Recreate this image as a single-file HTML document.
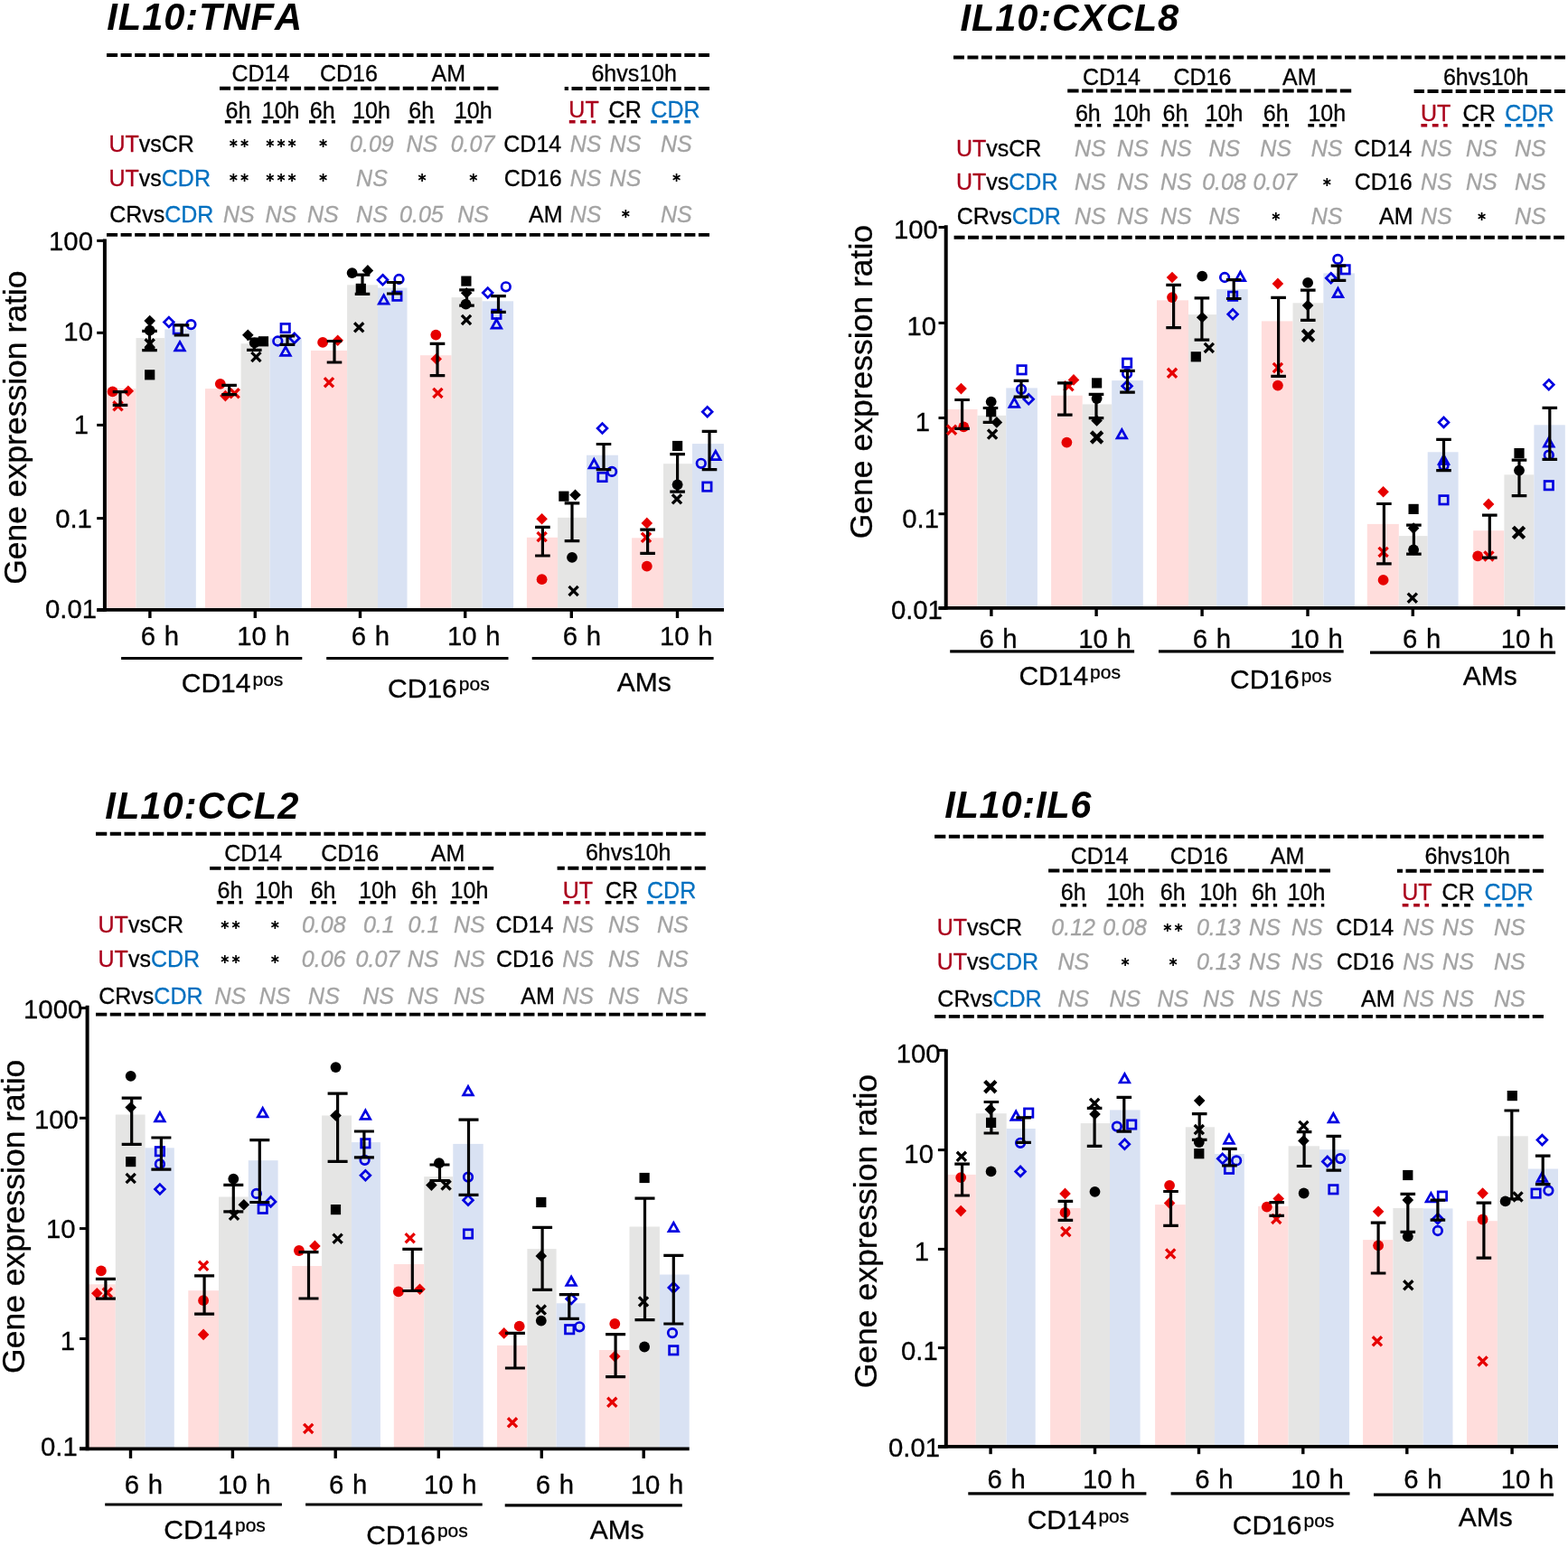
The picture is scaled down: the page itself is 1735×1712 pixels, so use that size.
<!DOCTYPE html>
<html><head><meta charset="utf-8"><title>IL10 ratios</title>
<style>
html,body{margin:0;padding:0;background:#fff;}
svg{display:block;font-family:"Liberation Sans", Arial, sans-serif;font-kerning:none;}
</style></head>
<body>
<svg width="1735" height="1712" viewBox="0 0 1735 1712">
<rect width="1735" height="1712" fill="#fff"/>
<g>
<text x="118.27" y="32.5" font-size="41.7" font-style="italic" font-weight="bold" fill="#000" letter-spacing="0.91">IL10:TNFA</text>
<line x1="118" y1="61" x2="785" y2="61" stroke="#000" stroke-width="3.9" stroke-dasharray="12.093 3.500"/>
<line x1="243" y1="97.8" x2="551.4" y2="97.8" stroke="#000" stroke-width="3.9" stroke-dasharray="12.095 3.500"/>
<line x1="785" y1="98" x2="624.7" y2="98" stroke="#000" stroke-width="3.9" stroke-dasharray="12.1 3.5"/>
<line x1="118" y1="259.9" x2="785" y2="259.9" stroke="#000" stroke-width="3.9" stroke-dasharray="12.093 3.500"/>
<text x="256.47" y="89.6" font-size="25" fill="#000" stroke="#000" stroke-width="0.3">CD14</text>
<text x="353.96" y="89.6" font-size="25" fill="#000" stroke="#000" stroke-width="0.3">CD16</text>
<text x="477.55" y="89.6" font-size="25" fill="#000" stroke="#000" stroke-width="0.3">AM</text>
<text x="654.42" y="89.7" font-size="25" fill="#000" stroke="#000" stroke-width="0.3">6hvs10h</text>
<text x="249.57" y="130.8" font-size="25" fill="#000" stroke="#000" stroke-width="0.3">6h</text>
<line x1="248.84" y1="134.8" x2="277.76" y2="134.8" stroke="#000" stroke-width="3.4" stroke-dasharray="6.8 5.6"/>
<text x="289.8" y="130.8" font-size="25" fill="#000" stroke="#000" stroke-width="0.3">10h</text>
<line x1="289.71" y1="134.8" x2="324.39" y2="134.8" stroke="#000" stroke-width="3.4" stroke-dasharray="6.8 5.6"/>
<text x="342.77" y="130.8" font-size="25" fill="#000" stroke="#000" stroke-width="0.3">6h</text>
<line x1="342.04" y1="134.8" x2="370.96" y2="134.8" stroke="#000" stroke-width="3.4" stroke-dasharray="6.8 5.6"/>
<text x="390.2" y="130.8" font-size="25" fill="#000" stroke="#000" stroke-width="0.3">10h</text>
<line x1="390.11" y1="134.8" x2="424.79" y2="134.8" stroke="#000" stroke-width="3.4" stroke-dasharray="6.8 5.6"/>
<text x="452.27" y="130.8" font-size="25" fill="#000" stroke="#000" stroke-width="0.3">6h</text>
<line x1="451.54" y1="134.8" x2="480.46" y2="134.8" stroke="#000" stroke-width="3.4" stroke-dasharray="6.8 5.6"/>
<text x="502.9" y="130.8" font-size="25" fill="#000" stroke="#000" stroke-width="0.3">10h</text>
<line x1="502.81" y1="134.8" x2="537.49" y2="134.8" stroke="#000" stroke-width="3.4" stroke-dasharray="6.8 5.6"/>
<text x="629.36" y="130.2" font-size="25" fill="#AA001C" stroke="#AA001C" stroke-width="0.3">UT</text>
<line x1="629.79" y1="134.8" x2="659.11" y2="134.8" stroke="#AA001C" stroke-width="3.4" stroke-dasharray="6.8 5.6"/>
<text x="673.59" y="130.2" font-size="25" fill="#000" stroke="#000" stroke-width="0.3">CR</text>
<line x1="673.36" y1="134.8" x2="705.54" y2="134.8" stroke="#000" stroke-width="3.4" stroke-dasharray="6.8 5.6"/>
<text x="720.36" y="130.2" font-size="25" fill="#0070C0" stroke="#0070C0" stroke-width="0.3">CDR</text>
<line x1="720.13" y1="134.8" x2="767.37" y2="134.8" stroke="#0070C0" stroke-width="3.4" stroke-dasharray="6.8 5.6"/>
<text x="120.47" y="167.5" font-size="25" stroke-width="0.3"><tspan fill="#AA001C" stroke="#AA001C">UT</tspan><tspan fill="#000" stroke="#000">vs</tspan><tspan fill="#000" stroke="#000">CR</tspan></text>
<text x="252.35" y="163.04" font-size="14.5" font-family="DejaVu Sans, sans-serif" font-weight="bold">∗∗</text>
<text x="292.78" y="163.04" font-size="14.5" font-family="DejaVu Sans, sans-serif" font-weight="bold">∗∗∗</text>
<text x="351.43" y="163.04" font-size="14.5" font-family="DejaVu Sans, sans-serif" font-weight="bold">∗</text>
<text x="387.08" y="167.5" font-size="25" font-style="italic" fill="#A3A3A3" stroke="#A3A3A3" stroke-width="0.3">0.09</text>
<text x="449.39" y="167.5" font-size="25" font-style="italic" fill="#A3A3A3" stroke="#A3A3A3" stroke-width="0.3">NS</text>
<text x="498.64" y="167.5" font-size="25" font-style="italic" fill="#A3A3A3" stroke="#A3A3A3" stroke-width="0.3">0.07</text>
<text x="557.32" y="167.5" font-size="25" fill="#000" stroke="#000" stroke-width="0.3">CD14</text>
<text x="630.79" y="167.5" font-size="25" font-style="italic" fill="#A3A3A3" stroke="#A3A3A3" stroke-width="0.3">NS</text>
<text x="674.59" y="167.5" font-size="25" font-style="italic" fill="#A3A3A3" stroke="#A3A3A3" stroke-width="0.3">NS</text>
<text x="730.89" y="167.5" font-size="25" font-style="italic" fill="#A3A3A3" stroke="#A3A3A3" stroke-width="0.3">NS</text>
<text x="120.47" y="205.5" font-size="25" stroke-width="0.3"><tspan fill="#AA001C" stroke="#AA001C">UT</tspan><tspan fill="#000" stroke="#000">vs</tspan><tspan fill="#0070C0" stroke="#0070C0">CDR</tspan></text>
<text x="252.35" y="201.04" font-size="14.5" font-family="DejaVu Sans, sans-serif" font-weight="bold">∗∗</text>
<text x="292.78" y="201.04" font-size="14.5" font-family="DejaVu Sans, sans-serif" font-weight="bold">∗∗∗</text>
<text x="351.43" y="201.04" font-size="14.5" font-family="DejaVu Sans, sans-serif" font-weight="bold">∗</text>
<text x="394.09" y="205.5" font-size="25" font-style="italic" fill="#A3A3A3" stroke="#A3A3A3" stroke-width="0.3">NS</text>
<text x="460.93" y="201.04" font-size="14.5" font-family="DejaVu Sans, sans-serif" font-weight="bold">∗</text>
<text x="517.83" y="201.04" font-size="14.5" font-family="DejaVu Sans, sans-serif" font-weight="bold">∗</text>
<text x="557.68" y="205.5" font-size="25" fill="#000" stroke="#000" stroke-width="0.3">CD16</text>
<text x="630.79" y="205.5" font-size="25" font-style="italic" fill="#A3A3A3" stroke="#A3A3A3" stroke-width="0.3">NS</text>
<text x="674.59" y="205.5" font-size="25" font-style="italic" fill="#A3A3A3" stroke="#A3A3A3" stroke-width="0.3">NS</text>
<text x="742.43" y="201.04" font-size="14.5" font-family="DejaVu Sans, sans-serif" font-weight="bold">∗</text>
<text x="121.13" y="245.6" font-size="25" stroke-width="0.3"><tspan fill="#000" stroke="#000">CR</tspan><tspan fill="#000" stroke="#000">vs</tspan><tspan fill="#0070C0" stroke="#0070C0">CDR</tspan></text>
<text x="246.89" y="245.6" font-size="25" font-style="italic" fill="#A3A3A3" stroke="#A3A3A3" stroke-width="0.3">NS</text>
<text x="293.39" y="245.6" font-size="25" font-style="italic" fill="#A3A3A3" stroke="#A3A3A3" stroke-width="0.3">NS</text>
<text x="339.89" y="245.6" font-size="25" font-style="italic" fill="#A3A3A3" stroke="#A3A3A3" stroke-width="0.3">NS</text>
<text x="394.09" y="245.6" font-size="25" font-style="italic" fill="#A3A3A3" stroke="#A3A3A3" stroke-width="0.3">NS</text>
<text x="442.1" y="245.6" font-size="25" font-style="italic" fill="#A3A3A3" stroke="#A3A3A3" stroke-width="0.3">0.05</text>
<text x="506.29" y="245.6" font-size="25" font-style="italic" fill="#A3A3A3" stroke="#A3A3A3" stroke-width="0.3">NS</text>
<text x="585.05" y="245.6" font-size="25" fill="#000" stroke="#000" stroke-width="0.3">AM</text>
<text x="630.79" y="245.6" font-size="25" font-style="italic" fill="#A3A3A3" stroke="#A3A3A3" stroke-width="0.3">NS</text>
<text x="686.13" y="241.14" font-size="14.5" font-family="DejaVu Sans, sans-serif" font-weight="bold">∗</text>
<text x="730.89" y="245.6" font-size="25" font-style="italic" fill="#A3A3A3" stroke="#A3A3A3" stroke-width="0.3">NS</text>
<rect x="116" y="430" width="34.5" height="244.8" fill="#FFDDDC"/>
<rect x="150.5" y="374.1" width="31.8" height="300.7" fill="#E5E5E4"/>
<rect x="182.3" y="364.4" width="34.5" height="310.4" fill="#D9E2F3"/>
<rect x="227" y="430.1" width="39.6" height="244.7" fill="#FFDDDC"/>
<rect x="266.6" y="380.3" width="31.9" height="294.5" fill="#E5E5E4"/>
<rect x="298.5" y="374.3" width="35.4" height="300.5" fill="#D9E2F3"/>
<rect x="344" y="387.9" width="40.1" height="286.9" fill="#FFDDDC"/>
<rect x="384.1" y="315.3" width="33.9" height="359.5" fill="#E5E5E4"/>
<rect x="418" y="318.5" width="32.5" height="356.3" fill="#D9E2F3"/>
<rect x="465" y="393.2" width="34.6" height="281.6" fill="#FFDDDC"/>
<rect x="499.6" y="329.1" width="33.9" height="345.7" fill="#E5E5E4"/>
<rect x="533.5" y="333.3" width="34.6" height="341.5" fill="#D9E2F3"/>
<rect x="582.9" y="594.8" width="34.2" height="80" fill="#FFDDDC"/>
<rect x="617.1" y="572.8" width="31.9" height="102" fill="#E5E5E4"/>
<rect x="649" y="503.7" width="34.9" height="171.1" fill="#D9E2F3"/>
<rect x="699.1" y="595.3" width="34.9" height="79.5" fill="#FFDDDC"/>
<rect x="734" y="513.2" width="32" height="161.6" fill="#E5E5E4"/>
<rect x="766" y="491.1" width="34.9" height="183.7" fill="#D9E2F3"/>
<line x1="115.9" y1="264.4" x2="115.9" y2="676.8" stroke="#000" stroke-width="4"/>
<line x1="107.2" y1="674.8" x2="801" y2="674.8" stroke="#000" stroke-width="3.8"/>
<line x1="107.2" y1="266.4" x2="115.9" y2="266.4" stroke="#000" stroke-width="3"/>
<text x="54.06" y="276.59" font-size="29.3" fill="#000" stroke="#000" stroke-width="0.3">100</text>
<line x1="107.2" y1="368.3" x2="115.9" y2="368.3" stroke="#000" stroke-width="3"/>
<text x="70.35" y="377.49" font-size="29.3" fill="#000" stroke="#000" stroke-width="0.3">10</text>
<line x1="107.2" y1="470.4" x2="115.9" y2="470.4" stroke="#000" stroke-width="3"/>
<text x="81.64" y="480.48" font-size="29.3" fill="#000" stroke="#000" stroke-width="0.3">1</text>
<line x1="107.2" y1="573.6" x2="115.9" y2="573.6" stroke="#000" stroke-width="3"/>
<text x="61.2" y="583.69" font-size="29.3" fill="#000" stroke="#000" stroke-width="0.3">0.1</text>
<line x1="107.2" y1="675.3" x2="115.9" y2="675.3" stroke="#000" stroke-width="3"/>
<text x="50" y="683.69" font-size="29.3" fill="#000" stroke="#000" stroke-width="0.3">0.01</text>
<line x1="165.9" y1="674.8" x2="165.9" y2="684" stroke="#000" stroke-width="3.4"/>
<line x1="282.3" y1="674.8" x2="282.3" y2="684" stroke="#000" stroke-width="3.4"/>
<line x1="398.5" y1="674.8" x2="398.5" y2="684" stroke="#000" stroke-width="3.4"/>
<line x1="514.7" y1="674.8" x2="514.7" y2="684" stroke="#000" stroke-width="3.4"/>
<line x1="632.3" y1="674.8" x2="632.3" y2="684" stroke="#000" stroke-width="3.4"/>
<line x1="749.5" y1="674.8" x2="749.5" y2="684" stroke="#000" stroke-width="3.4"/>
<text x="0" y="0" font-size="35.5" text-anchor="middle" stroke="#000" stroke-width="0.3" transform="translate(29.2 473.2) rotate(-90)">Gene expression ratio</text>
<text x="155.81" y="714" font-size="29.3" fill="#000" stroke="#000" stroke-width="0.3" word-spacing="1.5">6 h</text>
<text x="388.81" y="714" font-size="29.3" fill="#000" stroke="#000" stroke-width="0.3" word-spacing="1.5">6 h</text>
<text x="622.71" y="714" font-size="29.3" fill="#000" stroke="#000" stroke-width="0.3" word-spacing="1.5">6 h</text>
<text x="262.17" y="714" font-size="29.3" fill="#000" stroke="#000" stroke-width="0.3" word-spacing="1.5">10 h</text>
<text x="494.97" y="714" font-size="29.3" fill="#000" stroke="#000" stroke-width="0.3" word-spacing="1.5">10 h</text>
<text x="730.07" y="714" font-size="29.3" fill="#000" stroke="#000" stroke-width="0.3" word-spacing="1.5">10 h</text>
<line x1="134.1" y1="728.5" x2="334.3" y2="728.5" stroke="#000" stroke-width="3.2"/>
<line x1="361.2" y1="728.5" x2="562.5" y2="728.5" stroke="#000" stroke-width="3.2"/>
<line x1="588.7" y1="728.5" x2="789.6" y2="728.5" stroke="#000" stroke-width="3.2"/>
<text x="200.78" y="766" font-size="30" stroke="#000" stroke-width="0.3">CD14<tspan font-size="21" dx="2" dy="-7.5">pos</tspan></text>
<text x="429.08" y="771.8" font-size="30" stroke="#000" stroke-width="0.3">CD16<tspan font-size="21" dx="2" dy="-7.5">pos</tspan></text>
<text x="682.64" y="764.8" font-size="30" fill="#000" stroke="#000" stroke-width="0.3">AMs</text>
<circle cx="124.6" cy="433.4" r="5.9" fill="#E60000"/>
<polygon points="141.8,426.4 148.1,432.7 141.8,439 135.5,432.7" fill="#E60000"/>
<path d="M126.6 445.4L134.4 453.2M126.6 453.2L134.4 445.4" stroke="#E60000" stroke-width="3.3" stroke-linecap="square"/>
<polygon points="165.7,348.8 172,355.1 165.7,361.4 159.4,355.1" fill="#000"/>
<circle cx="165.7" cy="365.7" r="5.9" fill="#000"/>
<polygon points="165.7,375.5 172.2,387 159.2,387" fill="#000"/>
<path d="M161.8 376.4L169.6 384.2M161.8 384.2L169.6 376.4" stroke="#000" stroke-width="3.3" stroke-linecap="square"/>
<rect x="160.1" y="409.2" width="11.2" height="11.2" fill="#000"/>
<polygon points="186.9,351.1 192.3,356.5 186.9,361.9 181.5,356.5" fill="none" stroke="#0000E0" stroke-width="2.7"/>
<circle cx="211.4" cy="359.1" r="4.8" fill="none" stroke="#0000E0" stroke-width="2.7"/>
<rect x="192.1" y="359.7" width="9.4" height="9.4" fill="none" stroke="#0000E0" stroke-width="2.7"/>
<polygon points="199,378.4 204.3,387.9 193.7,387.9" fill="none" stroke="#0000E0" stroke-width="2.7" stroke-linejoin="miter"/>
<circle cx="243.8" cy="424.8" r="5.9" fill="#E60000"/>
<polygon points="249.4,431.8 255.7,438.1 249.4,444.4 243.1,438.1" fill="#E60000"/>
<path d="M255.7 431.4L263.5 439.2M255.7 439.2L263.5 431.4" stroke="#E60000" stroke-width="3.3" stroke-linecap="square"/>
<polygon points="274.3,364.5 280.6,370.8 274.3,377.1 268,370.8" fill="#000"/>
<rect x="285.9" y="372.2" width="11.2" height="11.2" fill="#000"/>
<circle cx="281.7" cy="379.3" r="5.9" fill="#000"/>
<path d="M279.5 391.1L287.3 398.9M279.5 398.9L287.3 391.1" stroke="#000" stroke-width="3.3" stroke-linecap="square"/>
<rect x="311" y="358.4" width="9.4" height="9.4" fill="none" stroke="#0000E0" stroke-width="2.7"/>
<circle cx="307.3" cy="377.5" r="4.8" fill="none" stroke="#0000E0" stroke-width="2.7"/>
<polygon points="325.8,368.9 331.2,374.3 325.8,379.7 320.4,374.3" fill="none" stroke="#0000E0" stroke-width="2.7"/>
<polygon points="316,383.9 321.3,393.4 310.7,393.4" fill="none" stroke="#0000E0" stroke-width="2.7" stroke-linejoin="miter"/>
<circle cx="357.1" cy="378.9" r="5.9" fill="#E60000"/>
<polygon points="373.7,370.5 380,376.8 373.7,383.1 367.4,376.8" fill="#E60000"/>
<path d="M360.1 419.3L367.9 427.1M360.1 427.1L367.9 419.3" stroke="#E60000" stroke-width="3.3" stroke-linecap="square"/>
<circle cx="389.6" cy="302.1" r="5.9" fill="#000"/>
<polygon points="406.9,293.1 413.2,299.4 406.9,305.7 400.6,299.4" fill="#000"/>
<rect x="393.7" y="313.8" width="11.2" height="11.2" fill="#000"/>
<path d="M393.3 358.4L401.1 366.2M393.3 366.2L401.1 358.4" stroke="#000" stroke-width="3.3" stroke-linecap="square"/>
<polygon points="423.5,304.3 428.9,309.7 423.5,315.1 418.1,309.7" fill="none" stroke="#0000E0" stroke-width="2.7"/>
<circle cx="441.5" cy="309" r="4.8" fill="none" stroke="#0000E0" stroke-width="2.7"/>
<polygon points="424.6,326.7 429.9,336.2 419.3,336.2" fill="none" stroke="#0000E0" stroke-width="2.7" stroke-linejoin="miter"/>
<rect x="434.7" y="323" width="9.4" height="9.4" fill="none" stroke="#0000E0" stroke-width="2.7"/>
<circle cx="482.3" cy="370.6" r="5.9" fill="#E60000"/>
<polygon points="482.7,391 489,397.3 482.7,403.6 476.4,397.3" fill="#E60000"/>
<path d="M480.5 431L488.3 438.8M480.5 438.8L488.3 431" stroke="#E60000" stroke-width="3.3" stroke-linecap="square"/>
<rect x="510.3" y="305.5" width="11.2" height="11.2" fill="#000"/>
<polygon points="516.2,318 522.5,324.3 516.2,330.6 509.9,324.3" fill="#000"/>
<circle cx="515.5" cy="336.7" r="5.9" fill="#000"/>
<path d="M512.1 350.1L519.9 357.9M512.1 357.9L519.9 350.1" stroke="#000" stroke-width="3.3" stroke-linecap="square"/>
<polygon points="539.7,318.6 545.1,324 539.7,329.4 534.3,324" fill="none" stroke="#0000E0" stroke-width="2.7"/>
<circle cx="559.8" cy="317.3" r="4.8" fill="none" stroke="#0000E0" stroke-width="2.7"/>
<rect x="544.7" y="343.1" width="9.4" height="9.4" fill="none" stroke="#0000E0" stroke-width="2.7"/>
<polygon points="549.4,353.6 554.7,363.1 544.1,363.1" fill="none" stroke="#0000E0" stroke-width="2.7" stroke-linejoin="miter"/>
<polygon points="599.6,568 605.9,574.3 599.6,580.6 593.3,574.3" fill="#E60000"/>
<path d="M595.7 590.2L603.5 598M595.7 598L603.5 590.2" stroke="#E60000" stroke-width="3.3" stroke-linecap="square"/>
<circle cx="599.6" cy="641.2" r="5.9" fill="#E60000"/>
<rect x="618.3" y="543.6" width="11.2" height="11.2" fill="#000"/>
<polygon points="636.5,541.4 642.8,547.7 636.5,554 630.2,547.7" fill="#000"/>
<circle cx="633" cy="616.8" r="5.9" fill="#000"/>
<path d="M630.7 650.1L638.5 657.9M630.7 657.9L638.5 650.1" stroke="#000" stroke-width="3.3" stroke-linecap="square"/>
<polygon points="666.5,468.6 671.9,474 666.5,479.4 661.1,474" fill="none" stroke="#0000E0" stroke-width="2.7"/>
<polygon points="657.3,508.3 662.6,517.8 652,517.8" fill="none" stroke="#0000E0" stroke-width="2.7" stroke-linejoin="miter"/>
<circle cx="677.1" cy="521.9" r="4.8" fill="none" stroke="#0000E0" stroke-width="2.7"/>
<rect x="661.8" y="523.3" width="9.4" height="9.4" fill="none" stroke="#0000E0" stroke-width="2.7"/>
<polygon points="715.8,572.6 722.1,578.9 715.8,585.2 709.5,578.9" fill="#E60000"/>
<path d="M711.1 590.9L718.9 598.7M711.1 598.7L718.9 590.9" stroke="#E60000" stroke-width="3.3" stroke-linecap="square"/>
<circle cx="715.8" cy="626.7" r="5.9" fill="#E60000"/>
<rect x="744" y="487.9" width="11.2" height="11.2" fill="#000"/>
<circle cx="749.6" cy="536.3" r="5.9" fill="#000"/>
<path d="M745.1 548.4L752.9 556.2M745.1 556.2L752.9 548.4" stroke="#000" stroke-width="3.3" stroke-linecap="square"/>
<polygon points="782.7,450.4 788.1,455.8 782.7,461.2 777.3,455.8" fill="none" stroke="#0000E0" stroke-width="2.7"/>
<polygon points="791.8,499.2 797.1,508.7 786.5,508.7" fill="none" stroke="#0000E0" stroke-width="2.7" stroke-linejoin="miter"/>
<circle cx="775.8" cy="512.8" r="4.8" fill="none" stroke="#0000E0" stroke-width="2.7"/>
<rect x="777.7" y="533.9" width="9.4" height="9.4" fill="none" stroke="#0000E0" stroke-width="2.7"/>
<path d="M133 433.7V448.3M124.7 433.7H141.3M124.7 448.3H141.3" stroke="#000" stroke-width="3.2" fill="none"/>
<path d="M165.5 366.4V387.6M157.2 366.4H173.8M157.2 387.6H173.8" stroke="#000" stroke-width="3.2" fill="none"/>
<path d="M201 359.8V371M192.7 359.8H209.3M192.7 371H209.3" stroke="#000" stroke-width="3.2" fill="none"/>
<path d="M253.6 426.4V436.7M245.3 426.4H261.9M245.3 436.7H261.9" stroke="#000" stroke-width="3.2" fill="none"/>
<path d="M281.3 375V387.3M273 375H289.6M273 387.3H289.6" stroke="#000" stroke-width="3.2" fill="none"/>
<path d="M318 371.9V381.4M309.7 371.9H326.3M309.7 381.4H326.3" stroke="#000" stroke-width="3.2" fill="none"/>
<path d="M370 377.5V401M361.7 377.5H378.3M361.7 401H378.3" stroke="#000" stroke-width="3.2" fill="none"/>
<path d="M401 304.2V325.4M392.7 304.2H409.3M392.7 325.4H409.3" stroke="#000" stroke-width="3.2" fill="none"/>
<path d="M436.3 312.5V325M428 312.5H444.6M428 325H444.6" stroke="#000" stroke-width="3.2" fill="none"/>
<path d="M484 380.3V415.6M475.7 380.3H492.3M475.7 415.6H492.3" stroke="#000" stroke-width="3.2" fill="none"/>
<path d="M516.5 320.8V338.1M508.2 320.8H524.8M508.2 338.1H524.8" stroke="#000" stroke-width="3.2" fill="none"/>
<path d="M551.5 327.7V345.3M543.2 327.7H559.8M543.2 345.3H559.8" stroke="#000" stroke-width="3.2" fill="none"/>
<path d="M600.4 583.4V615M592.1 583.4H608.7M592.1 615H608.7" stroke="#000" stroke-width="3.2" fill="none"/>
<path d="M633 556.8V598.6M624.7 556.8H641.3M624.7 598.6H641.3" stroke="#000" stroke-width="3.2" fill="none"/>
<path d="M668 491.5V519.6M659.7 491.5H676.3M659.7 519.6H676.3" stroke="#000" stroke-width="3.2" fill="none"/>
<path d="M716.6 586.2V612.3M708.3 586.2H724.9M708.3 612.3H724.9" stroke="#000" stroke-width="3.2" fill="none"/>
<path d="M749.6 502.6V544.2M741.3 502.6H757.9M741.3 544.2H757.9" stroke="#000" stroke-width="3.2" fill="none"/>
<path d="M785 477.4V519.6M776.7 477.4H793.3M776.7 519.6H793.3" stroke="#000" stroke-width="3.2" fill="none"/>
</g>
<g>
<text x="1062.47" y="34.3" font-size="41.7" font-style="italic" font-weight="bold" fill="#000" letter-spacing="0.87">IL10:CXCL8</text>
<line x1="1055" y1="63.5" x2="1732" y2="63.5" stroke="#000" stroke-width="3.9" stroke-dasharray="11.966 3.500"/>
<line x1="1181.2" y1="100.5" x2="1495.2" y2="100.5" stroke="#000" stroke-width="3.9" stroke-dasharray="12.375 3.500"/>
<line x1="1732" y1="101" x2="1564.6" y2="101" stroke="#000" stroke-width="3.9" stroke-dasharray="12.1 3.5"/>
<line x1="1055.6" y1="262.7" x2="1731" y2="262.7" stroke="#000" stroke-width="3.9" stroke-dasharray="11.930 3.500"/>
<text x="1197.97" y="93.8" font-size="25" fill="#000" stroke="#000" stroke-width="0.3">CD14</text>
<text x="1298.46" y="93.8" font-size="25" fill="#000" stroke="#000" stroke-width="0.3">CD16</text>
<text x="1419.05" y="93.8" font-size="25" fill="#000" stroke="#000" stroke-width="0.3">AM</text>
<text x="1596.92" y="93.6" font-size="25" fill="#000" stroke="#000" stroke-width="0.3">6hvs10h</text>
<text x="1189.97" y="134.4" font-size="25" fill="#000" stroke="#000" stroke-width="0.3">6h</text>
<line x1="1189.24" y1="138.7" x2="1218.16" y2="138.7" stroke="#000" stroke-width="3.4" stroke-dasharray="6.8 5.6"/>
<text x="1231.9" y="134.4" font-size="25" fill="#000" stroke="#000" stroke-width="0.3">10h</text>
<line x1="1231.81" y1="138.7" x2="1266.49" y2="138.7" stroke="#000" stroke-width="3.4" stroke-dasharray="6.8 5.6"/>
<text x="1286.57" y="134.4" font-size="25" fill="#000" stroke="#000" stroke-width="0.3">6h</text>
<line x1="1285.84" y1="138.7" x2="1314.76" y2="138.7" stroke="#000" stroke-width="3.4" stroke-dasharray="6.8 5.6"/>
<text x="1333.7" y="134.4" font-size="25" fill="#000" stroke="#000" stroke-width="0.3">10h</text>
<line x1="1333.61" y1="138.7" x2="1368.29" y2="138.7" stroke="#000" stroke-width="3.4" stroke-dasharray="6.8 5.6"/>
<text x="1397.87" y="134.4" font-size="25" fill="#000" stroke="#000" stroke-width="0.3">6h</text>
<line x1="1397.14" y1="138.7" x2="1426.06" y2="138.7" stroke="#000" stroke-width="3.4" stroke-dasharray="6.8 5.6"/>
<text x="1447.4" y="134.4" font-size="25" fill="#000" stroke="#000" stroke-width="0.3">10h</text>
<line x1="1447.31" y1="138.7" x2="1481.99" y2="138.7" stroke="#000" stroke-width="3.4" stroke-dasharray="6.8 5.6"/>
<text x="1571.96" y="134.4" font-size="25" fill="#AA001C" stroke="#AA001C" stroke-width="0.3">UT</text>
<line x1="1572.39" y1="138.7" x2="1601.71" y2="138.7" stroke="#AA001C" stroke-width="3.4" stroke-dasharray="6.8 5.6"/>
<text x="1618.59" y="134.4" font-size="25" fill="#000" stroke="#000" stroke-width="0.3">CR</text>
<line x1="1618.36" y1="138.7" x2="1650.54" y2="138.7" stroke="#000" stroke-width="3.4" stroke-dasharray="6.8 5.6"/>
<text x="1665.36" y="134.4" font-size="25" fill="#0070C0" stroke="#0070C0" stroke-width="0.3">CDR</text>
<line x1="1665.13" y1="138.7" x2="1712.37" y2="138.7" stroke="#0070C0" stroke-width="3.4" stroke-dasharray="6.8 5.6"/>
<text x="1057.97" y="172.6" font-size="25" stroke-width="0.3"><tspan fill="#AA001C" stroke="#AA001C">UT</tspan><tspan fill="#000" stroke="#000">vs</tspan><tspan fill="#000" stroke="#000">CR</tspan></text>
<text x="1188.89" y="172.6" font-size="25" font-style="italic" fill="#A3A3A3" stroke="#A3A3A3" stroke-width="0.3">NS</text>
<text x="1236.09" y="172.6" font-size="25" font-style="italic" fill="#A3A3A3" stroke="#A3A3A3" stroke-width="0.3">NS</text>
<text x="1283.89" y="172.6" font-size="25" font-style="italic" fill="#A3A3A3" stroke="#A3A3A3" stroke-width="0.3">NS</text>
<text x="1337.39" y="172.6" font-size="25" font-style="italic" fill="#A3A3A3" stroke="#A3A3A3" stroke-width="0.3">NS</text>
<text x="1394.19" y="172.6" font-size="25" font-style="italic" fill="#A3A3A3" stroke="#A3A3A3" stroke-width="0.3">NS</text>
<text x="1450.79" y="172.6" font-size="25" font-style="italic" fill="#A3A3A3" stroke="#A3A3A3" stroke-width="0.3">NS</text>
<text x="1498.32" y="172.6" font-size="25" fill="#000" stroke="#000" stroke-width="0.3">CD14</text>
<text x="1571.89" y="172.6" font-size="25" font-style="italic" fill="#A3A3A3" stroke="#A3A3A3" stroke-width="0.3">NS</text>
<text x="1621.89" y="172.6" font-size="25" font-style="italic" fill="#A3A3A3" stroke="#A3A3A3" stroke-width="0.3">NS</text>
<text x="1675.89" y="172.6" font-size="25" font-style="italic" fill="#A3A3A3" stroke="#A3A3A3" stroke-width="0.3">NS</text>
<text x="1057.97" y="210.3" font-size="25" stroke-width="0.3"><tspan fill="#AA001C" stroke="#AA001C">UT</tspan><tspan fill="#000" stroke="#000">vs</tspan><tspan fill="#0070C0" stroke="#0070C0">CDR</tspan></text>
<text x="1188.89" y="210.3" font-size="25" font-style="italic" fill="#A3A3A3" stroke="#A3A3A3" stroke-width="0.3">NS</text>
<text x="1236.09" y="210.3" font-size="25" font-style="italic" fill="#A3A3A3" stroke="#A3A3A3" stroke-width="0.3">NS</text>
<text x="1283.89" y="210.3" font-size="25" font-style="italic" fill="#A3A3A3" stroke="#A3A3A3" stroke-width="0.3">NS</text>
<text x="1330.2" y="210.3" font-size="25" font-style="italic" fill="#A3A3A3" stroke="#A3A3A3" stroke-width="0.3">0.08</text>
<text x="1386.54" y="210.3" font-size="25" font-style="italic" fill="#A3A3A3" stroke="#A3A3A3" stroke-width="0.3">0.07</text>
<text x="1462.33" y="205.84" font-size="14.5" font-family="DejaVu Sans, sans-serif" font-weight="bold">∗</text>
<text x="1498.68" y="210.3" font-size="25" fill="#000" stroke="#000" stroke-width="0.3">CD16</text>
<text x="1571.89" y="210.3" font-size="25" font-style="italic" fill="#A3A3A3" stroke="#A3A3A3" stroke-width="0.3">NS</text>
<text x="1621.89" y="210.3" font-size="25" font-style="italic" fill="#A3A3A3" stroke="#A3A3A3" stroke-width="0.3">NS</text>
<text x="1675.89" y="210.3" font-size="25" font-style="italic" fill="#A3A3A3" stroke="#A3A3A3" stroke-width="0.3">NS</text>
<text x="1058.63" y="248.4" font-size="25" stroke-width="0.3"><tspan fill="#000" stroke="#000">CR</tspan><tspan fill="#000" stroke="#000">vs</tspan><tspan fill="#0070C0" stroke="#0070C0">CDR</tspan></text>
<text x="1188.89" y="248.4" font-size="25" font-style="italic" fill="#A3A3A3" stroke="#A3A3A3" stroke-width="0.3">NS</text>
<text x="1236.09" y="248.4" font-size="25" font-style="italic" fill="#A3A3A3" stroke="#A3A3A3" stroke-width="0.3">NS</text>
<text x="1283.89" y="248.4" font-size="25" font-style="italic" fill="#A3A3A3" stroke="#A3A3A3" stroke-width="0.3">NS</text>
<text x="1337.39" y="248.4" font-size="25" font-style="italic" fill="#A3A3A3" stroke="#A3A3A3" stroke-width="0.3">NS</text>
<text x="1405.73" y="243.94" font-size="14.5" font-family="DejaVu Sans, sans-serif" font-weight="bold">∗</text>
<text x="1450.79" y="248.4" font-size="25" font-style="italic" fill="#A3A3A3" stroke="#A3A3A3" stroke-width="0.3">NS</text>
<text x="1526.05" y="248.4" font-size="25" fill="#000" stroke="#000" stroke-width="0.3">AM</text>
<text x="1571.89" y="248.4" font-size="25" font-style="italic" fill="#A3A3A3" stroke="#A3A3A3" stroke-width="0.3">NS</text>
<text x="1633.43" y="243.94" font-size="14.5" font-family="DejaVu Sans, sans-serif" font-weight="bold">∗</text>
<text x="1675.89" y="248.4" font-size="25" font-style="italic" fill="#A3A3A3" stroke="#A3A3A3" stroke-width="0.3">NS</text>
<rect x="1048" y="452.9" width="33.5" height="219.9" fill="#FFDDDC"/>
<rect x="1081.5" y="459.8" width="31.8" height="213" fill="#E5E5E4"/>
<rect x="1113.3" y="429.4" width="34.6" height="243.4" fill="#D9E2F3"/>
<rect x="1163.1" y="437.7" width="34.6" height="235.1" fill="#FFDDDC"/>
<rect x="1197.7" y="447.4" width="32.5" height="225.4" fill="#E5E5E4"/>
<rect x="1230.2" y="421.1" width="34.6" height="251.7" fill="#D9E2F3"/>
<rect x="1280" y="332.3" width="35" height="340.5" fill="#FFDDDC"/>
<rect x="1315" y="348.1" width="31.1" height="324.7" fill="#E5E5E4"/>
<rect x="1346.1" y="320.1" width="34.6" height="352.7" fill="#D9E2F3"/>
<rect x="1395.9" y="355.4" width="34.6" height="317.4" fill="#FFDDDC"/>
<rect x="1430.5" y="335.3" width="33.9" height="337.5" fill="#E5E5E4"/>
<rect x="1464.4" y="302.4" width="34.5" height="370.4" fill="#D9E2F3"/>
<rect x="1512.8" y="579.9" width="35" height="92.9" fill="#FFDDDC"/>
<rect x="1547.8" y="593.1" width="31.9" height="79.7" fill="#E5E5E4"/>
<rect x="1579.7" y="500.3" width="33.9" height="172.5" fill="#D9E2F3"/>
<rect x="1630.2" y="587.2" width="34.2" height="85.6" fill="#FFDDDC"/>
<rect x="1664.4" y="525.3" width="33" height="147.5" fill="#E5E5E4"/>
<rect x="1697.4" y="470.3" width="34.4" height="202.5" fill="#D9E2F3"/>
<line x1="1046.7" y1="249.2" x2="1046.7" y2="674.8" stroke="#000" stroke-width="4"/>
<line x1="1038.5" y1="672.8" x2="1731.8" y2="672.8" stroke="#000" stroke-width="3.8"/>
<line x1="1038.5" y1="251.5" x2="1046.7" y2="251.5" stroke="#000" stroke-width="3"/>
<text x="988.96" y="264.49" font-size="29.3" fill="#000" stroke="#000" stroke-width="0.3">100</text>
<line x1="1038.5" y1="357.4" x2="1046.7" y2="357.4" stroke="#000" stroke-width="3"/>
<text x="1003.45" y="371.49" font-size="29.3" fill="#000" stroke="#000" stroke-width="0.3">10</text>
<line x1="1038.5" y1="462.5" x2="1046.7" y2="462.5" stroke="#000" stroke-width="3"/>
<text x="1012.64" y="476.58" font-size="29.3" fill="#000" stroke="#000" stroke-width="0.3">1</text>
<line x1="1038.5" y1="568.7" x2="1046.7" y2="568.7" stroke="#000" stroke-width="3"/>
<text x="998.3" y="583.59" font-size="29.3" fill="#000" stroke="#000" stroke-width="0.3">0.1</text>
<line x1="1038.5" y1="673.3" x2="1046.7" y2="673.3" stroke="#000" stroke-width="3"/>
<text x="985.9" y="684.59" font-size="29.3" fill="#000" stroke="#000" stroke-width="0.3">0.01</text>
<line x1="1096.9" y1="672.8" x2="1096.9" y2="682" stroke="#000" stroke-width="3.4"/>
<line x1="1213.1" y1="672.8" x2="1213.1" y2="682" stroke="#000" stroke-width="3.4"/>
<line x1="1330.1" y1="672.8" x2="1330.1" y2="682" stroke="#000" stroke-width="3.4"/>
<line x1="1447" y1="672.8" x2="1447" y2="682" stroke="#000" stroke-width="3.4"/>
<line x1="1563.3" y1="672.8" x2="1563.3" y2="682" stroke="#000" stroke-width="3.4"/>
<line x1="1680.4" y1="672.8" x2="1680.4" y2="682" stroke="#000" stroke-width="3.4"/>
<text x="0" y="0" font-size="35.5" text-anchor="middle" stroke="#000" stroke-width="0.3" transform="translate(965 422.6) rotate(-90)">Gene expression ratio</text>
<text x="1083.41" y="716.9" font-size="29.3" fill="#000" stroke="#000" stroke-width="0.3" word-spacing="1.5">6 h</text>
<text x="1319.81" y="716.9" font-size="29.3" fill="#000" stroke="#000" stroke-width="0.3" word-spacing="1.5">6 h</text>
<text x="1552.11" y="716.9" font-size="29.3" fill="#000" stroke="#000" stroke-width="0.3" word-spacing="1.5">6 h</text>
<text x="1193.17" y="716.9" font-size="29.3" fill="#000" stroke="#000" stroke-width="0.3" word-spacing="1.5">10 h</text>
<text x="1427.17" y="716.9" font-size="29.3" fill="#000" stroke="#000" stroke-width="0.3" word-spacing="1.5">10 h</text>
<text x="1660.77" y="716.9" font-size="29.3" fill="#000" stroke="#000" stroke-width="0.3" word-spacing="1.5">10 h</text>
<line x1="1051.2" y1="720.9" x2="1255.1" y2="720.9" stroke="#000" stroke-width="3.2"/>
<line x1="1282" y1="720.9" x2="1486.7" y2="720.9" stroke="#000" stroke-width="3.2"/>
<line x1="1516" y1="722.1" x2="1721.1" y2="722.1" stroke="#000" stroke-width="3.2"/>
<text x="1127.38" y="758.2" font-size="30" stroke="#000" stroke-width="0.3">CD14<tspan font-size="21" dx="2" dy="-7.5">pos</tspan></text>
<text x="1360.98" y="762.2" font-size="30" stroke="#000" stroke-width="0.3">CD16<tspan font-size="21" dx="2" dy="-7.5">pos</tspan></text>
<text x="1618.84" y="758.2" font-size="30" fill="#000" stroke="#000" stroke-width="0.3">AMs</text>
<polygon points="1063.5,423.8 1069.8,430.1 1063.5,436.4 1057.2,430.1" fill="#E60000"/>
<circle cx="1066.3" cy="472.3" r="5.9" fill="#E60000"/>
<path d="M1049.2 471.8L1057 479.6M1049.2 479.6L1057 471.8" stroke="#E60000" stroke-width="3.3" stroke-linecap="square"/>
<circle cx="1096.7" cy="444.6" r="5.9" fill="#000"/>
<rect x="1091.1" y="450.1" width="11.2" height="11.2" fill="#000"/>
<polygon points="1102.9,461.1 1109.2,467.4 1102.9,473.7 1096.6,467.4" fill="#000"/>
<path d="M1094.2 476.7L1102 484.5M1094.2 484.5L1102 476.7" stroke="#000" stroke-width="3.3" stroke-linecap="square"/>
<rect x="1125.9" y="404.6" width="9.4" height="9.4" fill="none" stroke="#0000E0" stroke-width="2.7"/>
<circle cx="1130" cy="430.8" r="4.8" fill="none" stroke="#0000E0" stroke-width="2.7"/>
<polygon points="1122.3,440.8 1127.6,450.3 1117,450.3" fill="none" stroke="#0000E0" stroke-width="2.7" stroke-linejoin="miter"/>
<polygon points="1138.2,436.4 1143.6,441.8 1138.2,447.2 1132.8,441.8" fill="none" stroke="#0000E0" stroke-width="2.7"/>
<polygon points="1188,414.1 1194.3,420.4 1188,426.7 1181.7,420.4" fill="#E60000"/>
<path d="M1178.6 423.4L1186.4 431.2M1178.6 431.2L1186.4 423.4" stroke="#E60000" stroke-width="3.3" stroke-linecap="square"/>
<circle cx="1180.4" cy="489.6" r="5.9" fill="#E60000"/>
<rect x="1208" y="418.3" width="11.2" height="11.2" fill="#000"/>
<circle cx="1213.6" cy="441" r="5.9" fill="#000"/>
<polygon points="1213.6,459.1 1219.9,465.4 1213.6,471.7 1207.3,465.4" fill="#000"/>
<path d="M1209 479.4L1218.2 488.6M1209 488.6L1218.2 479.4" stroke="#000" stroke-width="4.4" stroke-linecap="square"/>
<rect x="1242.4" y="397" width="9.4" height="9.4" fill="none" stroke="#0000E0" stroke-width="2.7"/>
<circle cx="1247.1" cy="413.5" r="4.8" fill="none" stroke="#0000E0" stroke-width="2.7"/>
<polygon points="1247.1,421.9 1252.5,427.3 1247.1,432.7 1241.7,427.3" fill="none" stroke="#0000E0" stroke-width="2.7"/>
<polygon points="1241.3,475.4 1246.6,484.9 1236,484.9" fill="none" stroke="#0000E0" stroke-width="2.7" stroke-linejoin="miter"/>
<polygon points="1297,300.7 1303.3,307 1297,313.3 1290.7,307" fill="#E60000"/>
<circle cx="1297" cy="329.1" r="5.9" fill="#E60000"/>
<path d="M1293.1 408.9L1300.9 416.7M1293.1 416.7L1300.9 408.9" stroke="#E60000" stroke-width="3.3" stroke-linecap="square"/>
<circle cx="1330.2" cy="305.6" r="5.9" fill="#000"/>
<polygon points="1330.2,344.9 1336.5,351.2 1330.2,357.5 1323.9,351.2" fill="#000"/>
<path d="M1333.9 381L1341.7 388.8M1333.9 388.8L1341.7 381" stroke="#000" stroke-width="3.3" stroke-linecap="square"/>
<rect x="1317.7" y="389.2" width="11.2" height="11.2" fill="#000"/>
<circle cx="1355.1" cy="307" r="4.8" fill="none" stroke="#0000E0" stroke-width="2.7"/>
<polygon points="1372.4,301.1 1377.7,310.6 1367.1,310.6" fill="none" stroke="#0000E0" stroke-width="2.7" stroke-linejoin="miter"/>
<rect x="1359.4" y="323" width="9.4" height="9.4" fill="none" stroke="#0000E0" stroke-width="2.7"/>
<polygon points="1364.1,342.4 1369.5,347.8 1364.1,353.2 1358.7,347.8" fill="none" stroke="#0000E0" stroke-width="2.7"/>
<polygon points="1413.9,307.6 1420.2,313.9 1413.9,320.2 1407.6,313.9" fill="#E60000"/>
<path d="M1410 403.1L1417.8 410.9M1410 410.9L1417.8 403.1" stroke="#E60000" stroke-width="3.3" stroke-linecap="square"/>
<circle cx="1413.9" cy="426.6" r="5.9" fill="#E60000"/>
<circle cx="1447.1" cy="312.9" r="5.9" fill="#000"/>
<polygon points="1447.1,331.8 1453.4,338.1 1447.1,344.4 1440.8,338.1" fill="#000"/>
<path d="M1442.9 366.7L1452.1 375.9M1442.9 375.9L1452.1 366.7" stroke="#000" stroke-width="4.4" stroke-linecap="square"/>
<circle cx="1480.3" cy="286.9" r="4.8" fill="none" stroke="#0000E0" stroke-width="2.7"/>
<rect x="1483.9" y="293.6" width="9.4" height="9.4" fill="none" stroke="#0000E0" stroke-width="2.7"/>
<polygon points="1472.7,302.3 1478.1,307.7 1472.7,313.1 1467.3,307.7" fill="none" stroke="#0000E0" stroke-width="2.7"/>
<polygon points="1480.5,319.1 1485.8,328.6 1475.2,328.6" fill="none" stroke="#0000E0" stroke-width="2.7" stroke-linejoin="miter"/>
<polygon points="1530.6,538 1536.9,544.3 1530.6,550.6 1524.3,544.3" fill="#E60000"/>
<path d="M1526.7 607L1534.5 614.8M1526.7 614.8L1534.5 607" stroke="#E60000" stroke-width="3.3" stroke-linecap="square"/>
<circle cx="1530.6" cy="641.9" r="5.9" fill="#E60000"/>
<rect x="1558.5" y="557.8" width="11.2" height="11.2" fill="#000"/>
<polygon points="1564.1,578.3 1570.4,584.6 1564.1,590.9 1557.8,584.6" fill="#000"/>
<circle cx="1564.1" cy="608.3" r="5.9" fill="#000"/>
<path d="M1558.9 657.8L1566.7 665.6M1558.9 665.6L1566.7 657.8" stroke="#000" stroke-width="3.3" stroke-linecap="square"/>
<polygon points="1597.5,462 1602.9,467.4 1597.5,472.8 1592.1,467.4" fill="none" stroke="#0000E0" stroke-width="2.7"/>
<polygon points="1597.5,504 1602.8,513.5 1592.2,513.5" fill="none" stroke="#0000E0" stroke-width="2.7" stroke-linejoin="miter"/>
<circle cx="1597.5" cy="515.2" r="4.8" fill="none" stroke="#0000E0" stroke-width="2.7"/>
<rect x="1592.8" y="548.6" width="9.4" height="9.4" fill="none" stroke="#0000E0" stroke-width="2.7"/>
<polygon points="1647.1,551.6 1653.4,557.9 1647.1,564.2 1640.8,557.9" fill="#E60000"/>
<circle cx="1635.2" cy="615.4" r="5.9" fill="#E60000"/>
<path d="M1643.5 611.5L1651.3 619.3M1643.5 619.3L1651.3 611.5" stroke="#E60000" stroke-width="3.3" stroke-linecap="square"/>
<rect x="1675.4" y="496" width="11.2" height="11.2" fill="#000"/>
<circle cx="1681" cy="520.6" r="5.9" fill="#000"/>
<path d="M1675.9 584.8L1685.1 594M1675.9 594L1685.1 584.8" stroke="#000" stroke-width="4.4" stroke-linecap="square"/>
<polygon points="1713.8,420.3 1719.2,425.7 1713.8,431.1 1708.4,425.7" fill="none" stroke="#0000E0" stroke-width="2.7"/>
<polygon points="1713.8,484.6 1719.1,494.1 1708.5,494.1" fill="none" stroke="#0000E0" stroke-width="2.7" stroke-linejoin="miter"/>
<circle cx="1713.8" cy="503.7" r="4.8" fill="none" stroke="#0000E0" stroke-width="2.7"/>
<rect x="1709.1" y="532.5" width="9.4" height="9.4" fill="none" stroke="#0000E0" stroke-width="2.7"/>
<path d="M1064.6 442.5V474.4M1056.3 442.5H1072.9M1056.3 474.4H1072.9" stroke="#000" stroke-width="3.2" fill="none"/>
<path d="M1096 451.5V467.4M1087.7 451.5H1104.3M1087.7 467.4H1104.3" stroke="#000" stroke-width="3.2" fill="none"/>
<path d="M1130 421.4V439.1M1121.7 421.4H1138.3M1121.7 439.1H1138.3" stroke="#000" stroke-width="3.2" fill="none"/>
<path d="M1178.3 423.9V459.1M1170 423.9H1186.6M1170 459.1H1186.6" stroke="#000" stroke-width="3.2" fill="none"/>
<path d="M1213 436.3V462.6M1204.7 436.3H1221.3M1204.7 462.6H1221.3" stroke="#000" stroke-width="3.2" fill="none"/>
<path d="M1247.5 410.3V434.2M1239.2 410.3H1255.8M1239.2 434.2H1255.8" stroke="#000" stroke-width="3.2" fill="none"/>
<path d="M1298.6 315.3V362.6M1290.3 315.3H1306.9M1290.3 362.6H1306.9" stroke="#000" stroke-width="3.2" fill="none"/>
<path d="M1329.9 329.8V376.1M1321.6 329.8H1338.2M1321.6 376.1H1338.2" stroke="#000" stroke-width="3.2" fill="none"/>
<path d="M1365.2 309.7V330.5M1356.9 309.7H1373.5M1356.9 330.5H1373.5" stroke="#000" stroke-width="3.2" fill="none"/>
<path d="M1414.6 329.4V416.3M1406.3 329.4H1422.9M1406.3 416.3H1422.9" stroke="#000" stroke-width="3.2" fill="none"/>
<path d="M1447.3 321.2V354.4M1439 321.2H1455.6M1439 354.4H1455.6" stroke="#000" stroke-width="3.2" fill="none"/>
<path d="M1481 294.2V310.4M1472.7 294.2H1489.3M1472.7 310.4H1489.3" stroke="#000" stroke-width="3.2" fill="none"/>
<path d="M1531.4 557.5V623.9M1523.1 557.5H1539.7M1523.1 623.9H1539.7" stroke="#000" stroke-width="3.2" fill="none"/>
<path d="M1564.4 581.2V613.1M1556.1 581.2H1572.7M1556.1 613.1H1572.7" stroke="#000" stroke-width="3.2" fill="none"/>
<path d="M1597.5 486.4V520.6M1589.2 486.4H1605.8M1589.2 520.6H1605.8" stroke="#000" stroke-width="3.2" fill="none"/>
<path d="M1648.3 570.2V617.1M1640 570.2H1656.6M1640 617.1H1656.6" stroke="#000" stroke-width="3.2" fill="none"/>
<path d="M1681 509.2V548.7M1672.7 509.2H1689.3M1672.7 548.7H1689.3" stroke="#000" stroke-width="3.2" fill="none"/>
<path d="M1714.8 451.3V508.4M1706.5 451.3H1723.1M1706.5 508.4H1723.1" stroke="#000" stroke-width="3.2" fill="none"/>
</g>
<g>
<text x="116.37" y="906" font-size="41.7" font-style="italic" font-weight="bold" fill="#000" letter-spacing="0.98">IL10:CCL2</text>
<line x1="106" y1="922.7" x2="780.8" y2="922.7" stroke="#000" stroke-width="3.9" stroke-dasharray="12.274 3.500"/>
<line x1="232.1" y1="960.9" x2="546.2" y2="960.9" stroke="#000" stroke-width="3.9" stroke-dasharray="12.380 3.500"/>
<line x1="780.8" y1="960.8" x2="616.6" y2="960.8" stroke="#000" stroke-width="3.9" stroke-dasharray="12.1 3.5"/>
<line x1="106" y1="1122.6" x2="780.8" y2="1122.6" stroke="#000" stroke-width="3.9" stroke-dasharray="12.274 3.500"/>
<text x="248.17" y="952.6" font-size="25" fill="#000" stroke="#000" stroke-width="0.3">CD14</text>
<text x="355.26" y="952.6" font-size="25" fill="#000" stroke="#000" stroke-width="0.3">CD16</text>
<text x="476.85" y="952.6" font-size="25" fill="#000" stroke="#000" stroke-width="0.3">AM</text>
<text x="647.92" y="952.4" font-size="25" fill="#000" stroke="#000" stroke-width="0.3">6hvs10h</text>
<text x="240.57" y="994" font-size="25" fill="#000" stroke="#000" stroke-width="0.3">6h</text>
<line x1="239.84" y1="998.8" x2="268.76" y2="998.8" stroke="#000" stroke-width="3.4" stroke-dasharray="6.8 5.6"/>
<text x="282.6" y="994" font-size="25" fill="#000" stroke="#000" stroke-width="0.3">10h</text>
<line x1="282.51" y1="998.8" x2="317.19" y2="998.8" stroke="#000" stroke-width="3.4" stroke-dasharray="6.8 5.6"/>
<text x="343.67" y="994" font-size="25" fill="#000" stroke="#000" stroke-width="0.3">6h</text>
<line x1="342.94" y1="998.8" x2="371.86" y2="998.8" stroke="#000" stroke-width="3.4" stroke-dasharray="6.8 5.6"/>
<text x="397.2" y="994" font-size="25" fill="#000" stroke="#000" stroke-width="0.3">10h</text>
<line x1="397.11" y1="998.8" x2="431.79" y2="998.8" stroke="#000" stroke-width="3.4" stroke-dasharray="6.8 5.6"/>
<text x="455.27" y="994" font-size="25" fill="#000" stroke="#000" stroke-width="0.3">6h</text>
<line x1="454.54" y1="998.8" x2="483.46" y2="998.8" stroke="#000" stroke-width="3.4" stroke-dasharray="6.8 5.6"/>
<text x="498.6" y="994" font-size="25" fill="#000" stroke="#000" stroke-width="0.3">10h</text>
<line x1="498.51" y1="998.8" x2="533.19" y2="998.8" stroke="#000" stroke-width="3.4" stroke-dasharray="6.8 5.6"/>
<text x="622.66" y="994" font-size="25" fill="#AA001C" stroke="#AA001C" stroke-width="0.3">UT</text>
<line x1="623.09" y1="998.8" x2="652.41" y2="998.8" stroke="#AA001C" stroke-width="3.4" stroke-dasharray="6.8 5.6"/>
<text x="669.89" y="994" font-size="25" fill="#000" stroke="#000" stroke-width="0.3">CR</text>
<line x1="669.66" y1="998.8" x2="701.84" y2="998.8" stroke="#000" stroke-width="3.4" stroke-dasharray="6.8 5.6"/>
<text x="716.06" y="994" font-size="25" fill="#0070C0" stroke="#0070C0" stroke-width="0.3">CDR</text>
<line x1="715.83" y1="998.8" x2="763.07" y2="998.8" stroke="#0070C0" stroke-width="3.4" stroke-dasharray="6.8 5.6"/>
<text x="108.57" y="1032.3" font-size="25" stroke-width="0.3"><tspan fill="#AA001C" stroke="#AA001C">UT</tspan><tspan fill="#000" stroke="#000">vs</tspan><tspan fill="#000" stroke="#000">CR</tspan></text>
<text x="242.85" y="1027.84" font-size="14.5" font-family="DejaVu Sans, sans-serif" font-weight="bold">∗∗</text>
<text x="298.33" y="1027.84" font-size="14.5" font-family="DejaVu Sans, sans-serif" font-weight="bold">∗</text>
<text x="333.9" y="1032.3" font-size="25" font-style="italic" fill="#A3A3A3" stroke="#A3A3A3" stroke-width="0.3">0.08</text>
<text x="401.94" y="1032.3" font-size="25" font-style="italic" fill="#A3A3A3" stroke="#A3A3A3" stroke-width="0.3">0.1</text>
<text x="451.54" y="1032.3" font-size="25" font-style="italic" fill="#A3A3A3" stroke="#A3A3A3" stroke-width="0.3">0.1</text>
<text x="501.89" y="1032.3" font-size="25" font-style="italic" fill="#A3A3A3" stroke="#A3A3A3" stroke-width="0.3">NS</text>
<text x="548.52" y="1032.3" font-size="25" fill="#000" stroke="#000" stroke-width="0.3">CD14</text>
<text x="622.19" y="1032.3" font-size="25" font-style="italic" fill="#A3A3A3" stroke="#A3A3A3" stroke-width="0.3">NS</text>
<text x="672.99" y="1032.3" font-size="25" font-style="italic" fill="#A3A3A3" stroke="#A3A3A3" stroke-width="0.3">NS</text>
<text x="726.99" y="1032.3" font-size="25" font-style="italic" fill="#A3A3A3" stroke="#A3A3A3" stroke-width="0.3">NS</text>
<text x="108.57" y="1070.3" font-size="25" stroke-width="0.3"><tspan fill="#AA001C" stroke="#AA001C">UT</tspan><tspan fill="#000" stroke="#000">vs</tspan><tspan fill="#0070C0" stroke="#0070C0">CDR</tspan></text>
<text x="242.85" y="1065.84" font-size="14.5" font-family="DejaVu Sans, sans-serif" font-weight="bold">∗∗</text>
<text x="298.33" y="1065.84" font-size="14.5" font-family="DejaVu Sans, sans-serif" font-weight="bold">∗</text>
<text x="333.83" y="1070.3" font-size="25" font-style="italic" fill="#A3A3A3" stroke="#A3A3A3" stroke-width="0.3">0.06</text>
<text x="393.54" y="1070.3" font-size="25" font-style="italic" fill="#A3A3A3" stroke="#A3A3A3" stroke-width="0.3">0.07</text>
<text x="450.79" y="1070.3" font-size="25" font-style="italic" fill="#A3A3A3" stroke="#A3A3A3" stroke-width="0.3">NS</text>
<text x="501.89" y="1070.3" font-size="25" font-style="italic" fill="#A3A3A3" stroke="#A3A3A3" stroke-width="0.3">NS</text>
<text x="548.88" y="1070.3" font-size="25" fill="#000" stroke="#000" stroke-width="0.3">CD16</text>
<text x="622.19" y="1070.3" font-size="25" font-style="italic" fill="#A3A3A3" stroke="#A3A3A3" stroke-width="0.3">NS</text>
<text x="672.99" y="1070.3" font-size="25" font-style="italic" fill="#A3A3A3" stroke="#A3A3A3" stroke-width="0.3">NS</text>
<text x="726.99" y="1070.3" font-size="25" font-style="italic" fill="#A3A3A3" stroke="#A3A3A3" stroke-width="0.3">NS</text>
<text x="109.23" y="1111" font-size="25" stroke-width="0.3"><tspan fill="#000" stroke="#000">CR</tspan><tspan fill="#000" stroke="#000">vs</tspan><tspan fill="#0070C0" stroke="#0070C0">CDR</tspan></text>
<text x="237.39" y="1111" font-size="25" font-style="italic" fill="#A3A3A3" stroke="#A3A3A3" stroke-width="0.3">NS</text>
<text x="286.79" y="1111" font-size="25" font-style="italic" fill="#A3A3A3" stroke="#A3A3A3" stroke-width="0.3">NS</text>
<text x="341.09" y="1111" font-size="25" font-style="italic" fill="#A3A3A3" stroke="#A3A3A3" stroke-width="0.3">NS</text>
<text x="401.19" y="1111" font-size="25" font-style="italic" fill="#A3A3A3" stroke="#A3A3A3" stroke-width="0.3">NS</text>
<text x="450.79" y="1111" font-size="25" font-style="italic" fill="#A3A3A3" stroke="#A3A3A3" stroke-width="0.3">NS</text>
<text x="501.89" y="1111" font-size="25" font-style="italic" fill="#A3A3A3" stroke="#A3A3A3" stroke-width="0.3">NS</text>
<text x="576.25" y="1111" font-size="25" fill="#000" stroke="#000" stroke-width="0.3">AM</text>
<text x="622.19" y="1111" font-size="25" font-style="italic" fill="#A3A3A3" stroke="#A3A3A3" stroke-width="0.3">NS</text>
<text x="672.99" y="1111" font-size="25" font-style="italic" fill="#A3A3A3" stroke="#A3A3A3" stroke-width="0.3">NS</text>
<text x="726.99" y="1111" font-size="25" font-style="italic" fill="#A3A3A3" stroke="#A3A3A3" stroke-width="0.3">NS</text>
<rect x="97.5" y="1421.3" width="30.3" height="182" fill="#FFDDDC"/>
<rect x="127.8" y="1233.5" width="32.8" height="369.8" fill="#E5E5E4"/>
<rect x="160.6" y="1270.3" width="32.2" height="333" fill="#D9E2F3"/>
<rect x="208.3" y="1428.2" width="33.7" height="175.1" fill="#FFDDDC"/>
<rect x="242" y="1324.5" width="32.8" height="278.8" fill="#E5E5E4"/>
<rect x="274.8" y="1284.2" width="32.8" height="319.1" fill="#D9E2F3"/>
<rect x="323.2" y="1401" width="32.9" height="202.3" fill="#FFDDDC"/>
<rect x="356.1" y="1234.5" width="32.9" height="368.8" fill="#E5E5E4"/>
<rect x="389" y="1264.1" width="31.9" height="339.2" fill="#D9E2F3"/>
<rect x="435.8" y="1399" width="33.4" height="204.3" fill="#FFDDDC"/>
<rect x="469.2" y="1302.1" width="32.1" height="301.2" fill="#E5E5E4"/>
<rect x="501.3" y="1265.9" width="33.4" height="337.4" fill="#D9E2F3"/>
<rect x="550" y="1488.9" width="33.4" height="114.4" fill="#FFDDDC"/>
<rect x="583.4" y="1382.1" width="32.2" height="221.2" fill="#E5E5E4"/>
<rect x="615.6" y="1442.3" width="32" height="161" fill="#D9E2F3"/>
<rect x="663" y="1494" width="33.5" height="109.3" fill="#FFDDDC"/>
<rect x="696.5" y="1357.5" width="33.4" height="245.8" fill="#E5E5E4"/>
<rect x="729.9" y="1410.5" width="32.8" height="192.8" fill="#D9E2F3"/>
<line x1="96.6" y1="1112.8" x2="96.6" y2="1605.3" stroke="#000" stroke-width="4"/>
<line x1="88" y1="1603.3" x2="762.7" y2="1603.3" stroke="#000" stroke-width="3.8"/>
<line x1="88" y1="1115.5" x2="96.6" y2="1115.5" stroke="#000" stroke-width="3"/>
<text x="26.06" y="1126.59" font-size="29.3" fill="#000" stroke="#000" stroke-width="0.3">1000</text>
<line x1="88" y1="1237.3" x2="96.6" y2="1237.3" stroke="#000" stroke-width="3"/>
<text x="37.96" y="1248.59" font-size="29.3" fill="#000" stroke="#000" stroke-width="0.3">100</text>
<line x1="88" y1="1359.6" x2="96.6" y2="1359.6" stroke="#000" stroke-width="3"/>
<text x="51.05" y="1370.39" font-size="29.3" fill="#000" stroke="#000" stroke-width="0.3">10</text>
<line x1="88" y1="1481.5" x2="96.6" y2="1481.5" stroke="#000" stroke-width="3"/>
<text x="66.64" y="1493.68" font-size="29.3" fill="#000" stroke="#000" stroke-width="0.3">1</text>
<line x1="88" y1="1603" x2="96.6" y2="1603" stroke="#000" stroke-width="3"/>
<text x="45" y="1610.59" font-size="29.3" fill="#000" stroke="#000" stroke-width="0.3">0.1</text>
<line x1="144.5" y1="1603.3" x2="144.5" y2="1613.9" stroke="#000" stroke-width="3.4"/>
<line x1="257.4" y1="1603.3" x2="257.4" y2="1613.9" stroke="#000" stroke-width="3.4"/>
<line x1="371.2" y1="1603.3" x2="371.2" y2="1613.9" stroke="#000" stroke-width="3.4"/>
<line x1="485.3" y1="1603.3" x2="485.3" y2="1613.9" stroke="#000" stroke-width="3.4"/>
<line x1="599.3" y1="1603.3" x2="599.3" y2="1613.9" stroke="#000" stroke-width="3.4"/>
<line x1="712.2" y1="1603.3" x2="712.2" y2="1613.9" stroke="#000" stroke-width="3.4"/>
<text x="0" y="0" font-size="35.5" text-anchor="middle" stroke="#000" stroke-width="0.3" transform="translate(27.3 1346.3) rotate(-90)">Gene expression ratio</text>
<text x="137.71" y="1652.5" font-size="29.3" fill="#000" stroke="#000" stroke-width="0.3" word-spacing="1.5">6 h</text>
<text x="364.01" y="1652.5" font-size="29.3" fill="#000" stroke="#000" stroke-width="0.3" word-spacing="1.5">6 h</text>
<text x="592.71" y="1652.5" font-size="29.3" fill="#000" stroke="#000" stroke-width="0.3" word-spacing="1.5">6 h</text>
<text x="241.07" y="1652.5" font-size="29.3" fill="#000" stroke="#000" stroke-width="0.3" word-spacing="1.5">10 h</text>
<text x="468.97" y="1652.5" font-size="29.3" fill="#000" stroke="#000" stroke-width="0.3" word-spacing="1.5">10 h</text>
<text x="697.67" y="1652.5" font-size="29.3" fill="#000" stroke="#000" stroke-width="0.3" word-spacing="1.5">10 h</text>
<line x1="116.2" y1="1665" x2="311.9" y2="1665" stroke="#000" stroke-width="3.2"/>
<line x1="338.1" y1="1665" x2="533.7" y2="1665" stroke="#000" stroke-width="3.2"/>
<line x1="558.7" y1="1665.8" x2="754.8" y2="1665.8" stroke="#000" stroke-width="3.2"/>
<text x="181.28" y="1702.8" font-size="30" stroke="#000" stroke-width="0.3">CD14<tspan font-size="21" dx="2" dy="-7.5">pos</tspan></text>
<text x="405.18" y="1708.8" font-size="30" stroke="#000" stroke-width="0.3">CD16<tspan font-size="21" dx="2" dy="-7.5">pos</tspan></text>
<text x="652.64" y="1702.5" font-size="30" fill="#000" stroke="#000" stroke-width="0.3">AMs</text>
<circle cx="111.9" cy="1406.4" r="5.9" fill="#E60000"/>
<polygon points="107.3,1424.9 113.6,1431.2 107.3,1437.5 101,1431.2" fill="#E60000"/>
<path d="M114.9 1426.7L122.7 1434.5M114.9 1434.5L122.7 1426.7" stroke="#E60000" stroke-width="3.3" stroke-linecap="square"/>
<circle cx="144.7" cy="1190.8" r="5.9" fill="#000"/>
<polygon points="144.7,1219.3 151,1225.6 144.7,1231.9 138.4,1225.6" fill="#000"/>
<rect x="139.1" y="1280" width="11.2" height="11.2" fill="#000"/>
<path d="M140.8 1300.1L148.6 1307.9M140.8 1307.9L148.6 1300.1" stroke="#000" stroke-width="3.3" stroke-linecap="square"/>
<polygon points="176.9,1231.3 182.2,1240.8 171.6,1240.8" fill="none" stroke="#0000E0" stroke-width="2.7" stroke-linejoin="miter"/>
<rect x="172.2" y="1269.5" width="9.4" height="9.4" fill="none" stroke="#0000E0" stroke-width="2.7"/>
<circle cx="176.9" cy="1288.2" r="4.8" fill="none" stroke="#0000E0" stroke-width="2.7"/>
<polygon points="176.9,1310.6 182.3,1316 176.9,1321.4 171.5,1316" fill="none" stroke="#0000E0" stroke-width="2.7"/>
<path d="M221.2 1396.9L229 1404.7M221.2 1404.7L229 1396.9" stroke="#E60000" stroke-width="3.3" stroke-linecap="square"/>
<circle cx="225.1" cy="1439.2" r="5.9" fill="#E60000"/>
<polygon points="225.1,1470.6 231.4,1476.9 225.1,1483.2 218.8,1476.9" fill="#E60000"/>
<circle cx="258.3" cy="1304.6" r="5.9" fill="#000"/>
<polygon points="269.8,1327 276.1,1333.3 269.8,1339.6 263.5,1333.3" fill="#000"/>
<path d="M255.1 1340.9L262.9 1348.7M255.1 1348.7L262.9 1340.9" stroke="#000" stroke-width="3.3" stroke-linecap="square"/>
<polygon points="290.7,1226.3 296,1235.8 285.4,1235.8" fill="none" stroke="#0000E0" stroke-width="2.7" stroke-linejoin="miter"/>
<circle cx="283.8" cy="1320.9" r="4.8" fill="none" stroke="#0000E0" stroke-width="2.7"/>
<polygon points="299.6,1324.5 305,1329.9 299.6,1335.3 294.2,1329.9" fill="none" stroke="#0000E0" stroke-width="2.7"/>
<rect x="286" y="1333.1" width="9.4" height="9.4" fill="none" stroke="#0000E0" stroke-width="2.7"/>
<circle cx="330.9" cy="1384" r="5.9" fill="#E60000"/>
<polygon points="348.4,1372.6 354.7,1378.9 348.4,1385.2 342.1,1378.9" fill="#E60000"/>
<path d="M337.3 1577L345.1 1584.8M337.3 1584.8L345.1 1577" stroke="#E60000" stroke-width="3.3" stroke-linecap="square"/>
<circle cx="371.5" cy="1181.1" r="5.9" fill="#000"/>
<polygon points="371.5,1228.2 377.8,1234.5 371.5,1240.8 365.2,1234.5" fill="#000"/>
<rect x="365.9" y="1333" width="11.2" height="11.2" fill="#000"/>
<path d="M369.7 1366.8L377.5 1374.6M369.7 1374.6L377.5 1366.8" stroke="#000" stroke-width="3.3" stroke-linecap="square"/>
<polygon points="404.4,1228.8 409.7,1238.3 399.1,1238.3" fill="none" stroke="#0000E0" stroke-width="2.7" stroke-linejoin="miter"/>
<rect x="399.7" y="1260.6" width="9.4" height="9.4" fill="none" stroke="#0000E0" stroke-width="2.7"/>
<circle cx="403.6" cy="1283.8" r="4.8" fill="none" stroke="#0000E0" stroke-width="2.7"/>
<polygon points="404.4,1295.4 409.8,1300.8 404.4,1306.2 399,1300.8" fill="none" stroke="#0000E0" stroke-width="2.7"/>
<path d="M449.8 1366.3L457.6 1374.1M449.8 1374.1L457.6 1366.3" stroke="#E60000" stroke-width="3.3" stroke-linecap="square"/>
<circle cx="440.9" cy="1429.3" r="5.9" fill="#E60000"/>
<polygon points="464.5,1420.4 470.8,1426.7 464.5,1433 458.2,1426.7" fill="#E60000"/>
<circle cx="485.9" cy="1287.2" r="5.9" fill="#000"/>
<polygon points="477.4,1305.3 483.7,1311.6 477.4,1317.9 471.1,1311.6" fill="#000"/>
<path d="M489.7 1307.7L497.5 1315.5M489.7 1315.5L497.5 1307.7" stroke="#000" stroke-width="3.3" stroke-linecap="square"/>
<polygon points="518,1202.3 523.3,1211.8 512.7,1211.8" fill="none" stroke="#0000E0" stroke-width="2.7" stroke-linejoin="miter"/>
<circle cx="518" cy="1302.6" r="4.8" fill="none" stroke="#0000E0" stroke-width="2.7"/>
<polygon points="518,1322.9 523.4,1328.3 518,1333.7 512.6,1328.3" fill="none" stroke="#0000E0" stroke-width="2.7"/>
<rect x="513.3" y="1360.8" width="9.4" height="9.4" fill="none" stroke="#0000E0" stroke-width="2.7"/>
<polygon points="557.7,1469.1 564,1475.4 557.7,1481.7 551.4,1475.4" fill="#E60000"/>
<circle cx="574.7" cy="1467.7" r="5.9" fill="#E60000"/>
<path d="M563.1 1570.4L570.9 1578.2M563.1 1578.2L570.9 1570.4" stroke="#E60000" stroke-width="3.3" stroke-linecap="square"/>
<rect x="593.2" y="1324.9" width="11.2" height="11.2" fill="#000"/>
<polygon points="598.8,1383.6 605.1,1389.9 598.8,1396.2 592.5,1389.9" fill="#000"/>
<path d="M594.9 1445.7L602.7 1453.5M594.9 1453.5L602.7 1445.7" stroke="#000" stroke-width="3.3" stroke-linecap="square"/>
<circle cx="598.8" cy="1461.6" r="5.9" fill="#000"/>
<polygon points="632.1,1413 637.4,1422.5 626.8,1422.5" fill="none" stroke="#0000E0" stroke-width="2.7" stroke-linejoin="miter"/>
<polygon points="632.1,1432.1 637.5,1437.5 632.1,1442.9 626.7,1437.5" fill="none" stroke="#0000E0" stroke-width="2.7"/>
<rect x="625.5" y="1466.5" width="9.4" height="9.4" fill="none" stroke="#0000E0" stroke-width="2.7"/>
<circle cx="641.2" cy="1468.3" r="4.8" fill="none" stroke="#0000E0" stroke-width="2.7"/>
<circle cx="680.3" cy="1465" r="5.9" fill="#E60000"/>
<polygon points="680.3,1494.8 686.6,1501.1 680.3,1507.4 674,1501.1" fill="#E60000"/>
<path d="M673.4 1547.9L681.2 1555.7M673.4 1555.7L681.2 1547.9" stroke="#E60000" stroke-width="3.3" stroke-linecap="square"/>
<rect x="707.5" y="1297.9" width="11.2" height="11.2" fill="#000"/>
<path d="M708.1 1436.5L715.9 1444.3M708.1 1444.3L715.9 1436.5" stroke="#000" stroke-width="3.3" stroke-linecap="square"/>
<circle cx="713.1" cy="1490.5" r="5.9" fill="#000"/>
<polygon points="745.3,1353.2 750.6,1362.7 740,1362.7" fill="none" stroke="#0000E0" stroke-width="2.7" stroke-linejoin="miter"/>
<polygon points="745.3,1419.5 750.7,1424.9 745.3,1430.3 739.9,1424.9" fill="none" stroke="#0000E0" stroke-width="2.7"/>
<circle cx="744" cy="1475.1" r="4.8" fill="none" stroke="#0000E0" stroke-width="2.7"/>
<rect x="740.6" y="1489.6" width="9.4" height="9.4" fill="none" stroke="#0000E0" stroke-width="2.7"/>
<path d="M116.9 1415.3V1437.2M105.9 1415.3H127.9M105.9 1437.2H127.9" stroke="#000" stroke-width="3.2" fill="none"/>
<path d="M145.7 1215.2V1266.3M134.7 1215.2H156.7M134.7 1266.3H156.7" stroke="#000" stroke-width="3.2" fill="none"/>
<path d="M178.4 1259V1294.1M167.4 1259H189.4M167.4 1294.1H189.4" stroke="#000" stroke-width="3.2" fill="none"/>
<path d="M226.1 1411.9V1454.1M215.1 1411.9H237.1M215.1 1454.1H237.1" stroke="#000" stroke-width="3.2" fill="none"/>
<path d="M258.3 1311.4V1340.8M247.3 1311.4H269.3M247.3 1340.8H269.3" stroke="#000" stroke-width="3.2" fill="none"/>
<path d="M287.3 1261.7V1330.5M276.3 1261.7H298.3M276.3 1330.5H298.3" stroke="#000" stroke-width="3.2" fill="none"/>
<path d="M341.5 1385.6V1437M330.5 1385.6H352.5M330.5 1437H352.5" stroke="#000" stroke-width="3.2" fill="none"/>
<path d="M373.6 1210.1V1285.4M362.6 1210.1H384.6M362.6 1285.4H384.6" stroke="#000" stroke-width="3.2" fill="none"/>
<path d="M402.9 1252V1280.8M391.9 1252H413.9M391.9 1280.8H413.9" stroke="#000" stroke-width="3.2" fill="none"/>
<path d="M456.3 1382.3V1428.5M445.3 1382.3H467.3M445.3 1428.5H467.3" stroke="#000" stroke-width="3.2" fill="none"/>
<path d="M486.5 1289V1306.5M475.5 1289H497.5M475.5 1306.5H497.5" stroke="#000" stroke-width="3.2" fill="none"/>
<path d="M518.5 1239.1V1322.4M507.5 1239.1H529.5M507.5 1322.4H529.5" stroke="#000" stroke-width="3.2" fill="none"/>
<path d="M569.9 1475.4V1514M558.9 1475.4H580.9M558.9 1514H580.9" stroke="#000" stroke-width="3.2" fill="none"/>
<path d="M600.1 1358.4V1427.3M589.1 1358.4H611.1M589.1 1427.3H611.1" stroke="#000" stroke-width="3.2" fill="none"/>
<path d="M629.8 1432.7V1459.3M618.8 1432.7H640.8M618.8 1459.3H640.8" stroke="#000" stroke-width="3.2" fill="none"/>
<path d="M681.1 1476.6V1523.6M670.1 1476.6H692.1M670.1 1523.6H692.1" stroke="#000" stroke-width="3.2" fill="none"/>
<path d="M713.5 1326.2V1460.6M702.5 1326.2H724.5M702.5 1460.6H724.5" stroke="#000" stroke-width="3.2" fill="none"/>
<path d="M745.3 1389.3V1465M734.3 1389.3H756.3M734.3 1465H756.3" stroke="#000" stroke-width="3.2" fill="none"/>
</g>
<g>
<text x="1045.17" y="905.2" font-size="41.7" font-style="italic" font-weight="bold" fill="#000" letter-spacing="0.69">IL10:IL6</text>
<line x1="1034.1" y1="925.8" x2="1708" y2="925.8" stroke="#000" stroke-width="3.9" stroke-dasharray="12.253 3.500"/>
<line x1="1160.1" y1="963.5" x2="1472" y2="963.5" stroke="#000" stroke-width="3.9" stroke-dasharray="12.270 3.500"/>
<line x1="1708" y1="963.8" x2="1545.9" y2="963.8" stroke="#000" stroke-width="3.9" stroke-dasharray="12.1 3.5"/>
<line x1="1034.1" y1="1124.9" x2="1708" y2="1124.9" stroke="#000" stroke-width="3.9" stroke-dasharray="12.253 3.500"/>
<text x="1184.67" y="955.6" font-size="25" fill="#000" stroke="#000" stroke-width="0.3">CD14</text>
<text x="1294.86" y="955.6" font-size="25" fill="#000" stroke="#000" stroke-width="0.3">CD16</text>
<text x="1405.85" y="955.6" font-size="25" fill="#000" stroke="#000" stroke-width="0.3">AM</text>
<text x="1576.42" y="955.8" font-size="25" fill="#000" stroke="#000" stroke-width="0.3">6hvs10h</text>
<text x="1173.87" y="996.4" font-size="25" fill="#000" stroke="#000" stroke-width="0.3">6h</text>
<line x1="1173.14" y1="1001.7" x2="1202.06" y2="1001.7" stroke="#000" stroke-width="3.4" stroke-dasharray="6.8 5.6"/>
<text x="1224.7" y="996.4" font-size="25" fill="#000" stroke="#000" stroke-width="0.3">10h</text>
<line x1="1224.61" y1="1001.7" x2="1265.29" y2="1001.7" stroke="#000" stroke-width="3.4" stroke-dasharray="6.8 5.6"/>
<text x="1283.87" y="996.4" font-size="25" fill="#000" stroke="#000" stroke-width="0.3">6h</text>
<line x1="1283.14" y1="1001.7" x2="1312.06" y2="1001.7" stroke="#000" stroke-width="3.4" stroke-dasharray="6.8 5.6"/>
<text x="1327.4" y="996.4" font-size="25" fill="#000" stroke="#000" stroke-width="0.3">10h</text>
<line x1="1327.31" y1="1001.7" x2="1367.99" y2="1001.7" stroke="#000" stroke-width="3.4" stroke-dasharray="6.8 5.6"/>
<text x="1384.97" y="996.4" font-size="25" fill="#000" stroke="#000" stroke-width="0.3">6h</text>
<line x1="1384.24" y1="1001.7" x2="1413.16" y2="1001.7" stroke="#000" stroke-width="3.4" stroke-dasharray="6.8 5.6"/>
<text x="1424.7" y="996.4" font-size="25" fill="#000" stroke="#000" stroke-width="0.3">10h</text>
<line x1="1424.61" y1="1001.7" x2="1465.29" y2="1001.7" stroke="#000" stroke-width="3.4" stroke-dasharray="6.8 5.6"/>
<text x="1551.26" y="996.4" font-size="25" fill="#AA001C" stroke="#AA001C" stroke-width="0.3">UT</text>
<line x1="1551.69" y1="1001.7" x2="1581.01" y2="1001.7" stroke="#AA001C" stroke-width="3.4" stroke-dasharray="6.8 5.6"/>
<text x="1595.59" y="996.4" font-size="25" fill="#000" stroke="#000" stroke-width="0.3">CR</text>
<line x1="1595.36" y1="1001.7" x2="1627.54" y2="1001.7" stroke="#000" stroke-width="3.4" stroke-dasharray="6.8 5.6"/>
<text x="1642.46" y="996.4" font-size="25" fill="#0070C0" stroke="#0070C0" stroke-width="0.3">CDR</text>
<line x1="1642.23" y1="1001.7" x2="1689.47" y2="1001.7" stroke="#0070C0" stroke-width="3.4" stroke-dasharray="6.8 5.6"/>
<text x="1036.67" y="1035" font-size="25" stroke-width="0.3"><tspan fill="#AA001C" stroke="#AA001C">UT</tspan><tspan fill="#000" stroke="#000">vs</tspan><tspan fill="#000" stroke="#000">CR</tspan></text>
<text x="1163.31" y="1035" font-size="25" font-style="italic" fill="#A3A3A3" stroke="#A3A3A3" stroke-width="0.3">0.12</text>
<text x="1220.2" y="1035" font-size="25" font-style="italic" fill="#A3A3A3" stroke="#A3A3A3" stroke-width="0.3">0.08</text>
<text x="1285.85" y="1030.54" font-size="14.5" font-family="DejaVu Sans, sans-serif" font-weight="bold">∗∗</text>
<text x="1323.94" y="1035" font-size="25" font-style="italic" fill="#A3A3A3" stroke="#A3A3A3" stroke-width="0.3">0.13</text>
<text x="1382.09" y="1035" font-size="25" font-style="italic" fill="#A3A3A3" stroke="#A3A3A3" stroke-width="0.3">NS</text>
<text x="1428.99" y="1035" font-size="25" font-style="italic" fill="#A3A3A3" stroke="#A3A3A3" stroke-width="0.3">NS</text>
<text x="1478.32" y="1035" font-size="25" fill="#000" stroke="#000" stroke-width="0.3">CD14</text>
<text x="1552.29" y="1035" font-size="25" font-style="italic" fill="#A3A3A3" stroke="#A3A3A3" stroke-width="0.3">NS</text>
<text x="1596.09" y="1035" font-size="25" font-style="italic" fill="#A3A3A3" stroke="#A3A3A3" stroke-width="0.3">NS</text>
<text x="1652.89" y="1035" font-size="25" font-style="italic" fill="#A3A3A3" stroke="#A3A3A3" stroke-width="0.3">NS</text>
<text x="1036.67" y="1073" font-size="25" stroke-width="0.3"><tspan fill="#AA001C" stroke="#AA001C">UT</tspan><tspan fill="#000" stroke="#000">vs</tspan><tspan fill="#0070C0" stroke="#0070C0">CDR</tspan></text>
<text x="1170.39" y="1073" font-size="25" font-style="italic" fill="#A3A3A3" stroke="#A3A3A3" stroke-width="0.3">NS</text>
<text x="1238.93" y="1068.54" font-size="14.5" font-family="DejaVu Sans, sans-serif" font-weight="bold">∗</text>
<text x="1291.93" y="1068.54" font-size="14.5" font-family="DejaVu Sans, sans-serif" font-weight="bold">∗</text>
<text x="1323.94" y="1073" font-size="25" font-style="italic" fill="#A3A3A3" stroke="#A3A3A3" stroke-width="0.3">0.13</text>
<text x="1382.09" y="1073" font-size="25" font-style="italic" fill="#A3A3A3" stroke="#A3A3A3" stroke-width="0.3">NS</text>
<text x="1428.99" y="1073" font-size="25" font-style="italic" fill="#A3A3A3" stroke="#A3A3A3" stroke-width="0.3">NS</text>
<text x="1478.68" y="1073" font-size="25" fill="#000" stroke="#000" stroke-width="0.3">CD16</text>
<text x="1552.29" y="1073" font-size="25" font-style="italic" fill="#A3A3A3" stroke="#A3A3A3" stroke-width="0.3">NS</text>
<text x="1596.09" y="1073" font-size="25" font-style="italic" fill="#A3A3A3" stroke="#A3A3A3" stroke-width="0.3">NS</text>
<text x="1652.89" y="1073" font-size="25" font-style="italic" fill="#A3A3A3" stroke="#A3A3A3" stroke-width="0.3">NS</text>
<text x="1037.33" y="1114.1" font-size="25" stroke-width="0.3"><tspan fill="#000" stroke="#000">CR</tspan><tspan fill="#000" stroke="#000">vs</tspan><tspan fill="#0070C0" stroke="#0070C0">CDR</tspan></text>
<text x="1170.39" y="1114.1" font-size="25" font-style="italic" fill="#A3A3A3" stroke="#A3A3A3" stroke-width="0.3">NS</text>
<text x="1227.39" y="1114.1" font-size="25" font-style="italic" fill="#A3A3A3" stroke="#A3A3A3" stroke-width="0.3">NS</text>
<text x="1280.39" y="1114.1" font-size="25" font-style="italic" fill="#A3A3A3" stroke="#A3A3A3" stroke-width="0.3">NS</text>
<text x="1331.09" y="1114.1" font-size="25" font-style="italic" fill="#A3A3A3" stroke="#A3A3A3" stroke-width="0.3">NS</text>
<text x="1382.09" y="1114.1" font-size="25" font-style="italic" fill="#A3A3A3" stroke="#A3A3A3" stroke-width="0.3">NS</text>
<text x="1428.99" y="1114.1" font-size="25" font-style="italic" fill="#A3A3A3" stroke="#A3A3A3" stroke-width="0.3">NS</text>
<text x="1506.05" y="1114.1" font-size="25" fill="#000" stroke="#000" stroke-width="0.3">AM</text>
<text x="1552.29" y="1114.1" font-size="25" font-style="italic" fill="#A3A3A3" stroke="#A3A3A3" stroke-width="0.3">NS</text>
<text x="1596.09" y="1114.1" font-size="25" font-style="italic" fill="#A3A3A3" stroke="#A3A3A3" stroke-width="0.3">NS</text>
<text x="1652.89" y="1114.1" font-size="25" font-style="italic" fill="#A3A3A3" stroke="#A3A3A3" stroke-width="0.3">NS</text>
<rect x="1048.5" y="1299.9" width="31.3" height="300.9" fill="#FFDDDC"/>
<rect x="1079.8" y="1232.2" width="33.9" height="368.6" fill="#E5E5E4"/>
<rect x="1113.7" y="1249" width="32" height="351.8" fill="#D9E2F3"/>
<rect x="1162.1" y="1337" width="33.6" height="263.8" fill="#FFDDDC"/>
<rect x="1195.7" y="1243.1" width="32.3" height="357.7" fill="#E5E5E4"/>
<rect x="1228" y="1228.4" width="33.6" height="372.4" fill="#D9E2F3"/>
<rect x="1278.1" y="1333.1" width="33.7" height="267.7" fill="#FFDDDC"/>
<rect x="1311.8" y="1247.3" width="32.2" height="353.5" fill="#E5E5E4"/>
<rect x="1344" y="1277" width="32.8" height="323.8" fill="#D9E2F3"/>
<rect x="1392" y="1334.9" width="33.6" height="265.9" fill="#FFDDDC"/>
<rect x="1425.6" y="1268.3" width="34.4" height="332.5" fill="#E5E5E4"/>
<rect x="1460" y="1272.2" width="32.9" height="328.6" fill="#D9E2F3"/>
<rect x="1508.1" y="1372.1" width="33.3" height="228.7" fill="#FFDDDC"/>
<rect x="1541.4" y="1336.9" width="33.4" height="263.9" fill="#E5E5E4"/>
<rect x="1574.8" y="1337.4" width="32.7" height="263.4" fill="#D9E2F3"/>
<rect x="1623" y="1351.2" width="33.9" height="249.6" fill="#FFDDDC"/>
<rect x="1656.9" y="1257.3" width="33.9" height="343.5" fill="#E5E5E4"/>
<rect x="1690.8" y="1293.5" width="33.2" height="307.3" fill="#D9E2F3"/>
<line x1="1046.8" y1="1161.3" x2="1046.8" y2="1602.8" stroke="#000" stroke-width="4"/>
<line x1="1037.9" y1="1600.8" x2="1724" y2="1600.8" stroke="#000" stroke-width="3.8"/>
<line x1="1037.9" y1="1162.3" x2="1046.8" y2="1162.3" stroke="#000" stroke-width="3"/>
<text x="991.66" y="1176.49" font-size="29.3" fill="#000" stroke="#000" stroke-width="0.3">100</text>
<line x1="1037.9" y1="1272.6" x2="1046.8" y2="1272.6" stroke="#000" stroke-width="3"/>
<text x="1000.35" y="1287.49" font-size="29.3" fill="#000" stroke="#000" stroke-width="0.3">10</text>
<line x1="1037.9" y1="1382.4" x2="1046.8" y2="1382.4" stroke="#000" stroke-width="3"/>
<text x="1011.74" y="1394.58" font-size="29.3" fill="#000" stroke="#000" stroke-width="0.3">1</text>
<line x1="1037.9" y1="1491.6" x2="1046.8" y2="1491.6" stroke="#000" stroke-width="3"/>
<text x="997" y="1504.59" font-size="29.3" fill="#000" stroke="#000" stroke-width="0.3">0.1</text>
<line x1="1037.9" y1="1601.3" x2="1046.8" y2="1601.3" stroke="#000" stroke-width="3"/>
<text x="983" y="1612.49" font-size="29.3" fill="#000" stroke="#000" stroke-width="0.3">0.01</text>
<line x1="1096.1" y1="1600.8" x2="1096.1" y2="1609.2" stroke="#000" stroke-width="3.4"/>
<line x1="1211.5" y1="1600.8" x2="1211.5" y2="1609.2" stroke="#000" stroke-width="3.4"/>
<line x1="1326.5" y1="1600.8" x2="1326.5" y2="1609.2" stroke="#000" stroke-width="3.4"/>
<line x1="1441.8" y1="1600.8" x2="1441.8" y2="1609.2" stroke="#000" stroke-width="3.4"/>
<line x1="1556.8" y1="1600.8" x2="1556.8" y2="1609.2" stroke="#000" stroke-width="3.4"/>
<line x1="1673.1" y1="1600.8" x2="1673.1" y2="1609.2" stroke="#000" stroke-width="3.4"/>
<text x="0" y="0" font-size="35.5" text-anchor="middle" stroke="#000" stroke-width="0.3" transform="translate(970.3 1362.6) rotate(-90)">Gene expression ratio</text>
<text x="1092.61" y="1646.9" font-size="29.3" fill="#000" stroke="#000" stroke-width="0.3" word-spacing="1.5">6 h</text>
<text x="1322.21" y="1646.9" font-size="29.3" fill="#000" stroke="#000" stroke-width="0.3" word-spacing="1.5">6 h</text>
<text x="1553.31" y="1646.9" font-size="29.3" fill="#000" stroke="#000" stroke-width="0.3" word-spacing="1.5">6 h</text>
<text x="1198.07" y="1646.9" font-size="29.3" fill="#000" stroke="#000" stroke-width="0.3" word-spacing="1.5">10 h</text>
<text x="1428.37" y="1646.9" font-size="29.3" fill="#000" stroke="#000" stroke-width="0.3" word-spacing="1.5">10 h</text>
<text x="1660.77" y="1646.9" font-size="29.3" fill="#000" stroke="#000" stroke-width="0.3" word-spacing="1.5">10 h</text>
<line x1="1071.3" y1="1652.9" x2="1268.4" y2="1652.9" stroke="#000" stroke-width="3.2"/>
<line x1="1295.6" y1="1652.9" x2="1493.5" y2="1652.9" stroke="#000" stroke-width="3.2"/>
<line x1="1520" y1="1654.1" x2="1719.1" y2="1654.1" stroke="#000" stroke-width="3.2"/>
<text x="1136.68" y="1692.2" font-size="30" stroke="#000" stroke-width="0.3">CD14<tspan font-size="21" dx="2" dy="-7.5">pos</tspan></text>
<text x="1363.78" y="1697.6" font-size="30" stroke="#000" stroke-width="0.3">CD16<tspan font-size="21" dx="2" dy="-7.5">pos</tspan></text>
<text x="1613.64" y="1689.2" font-size="30" fill="#000" stroke="#000" stroke-width="0.3">AMs</text>
<path d="M1060 1275.9L1067.8 1283.7M1060 1283.7L1067.8 1275.9" stroke="#000" stroke-width="3.3" stroke-linecap="square"/>
<circle cx="1063.2" cy="1303.1" r="5.9" fill="#E60000"/>
<polygon points="1063.2,1333.8 1069.5,1340.1 1063.2,1346.4 1056.9,1340.1" fill="#E60000"/>
<path d="M1091.2 1198.1L1100.4 1207.3M1091.2 1207.3L1100.4 1198.1" stroke="#000" stroke-width="4.4" stroke-linecap="square"/>
<polygon points="1095.8,1221.4 1102.1,1227.7 1095.8,1234 1089.5,1227.7" fill="#000"/>
<rect x="1091" y="1236.8" width="11.2" height="11.2" fill="#000"/>
<circle cx="1096.6" cy="1296.4" r="5.9" fill="#000"/>
<polygon points="1124.2,1229.8 1129.5,1239.3 1118.9,1239.3" fill="none" stroke="#0000E0" stroke-width="2.7" stroke-linejoin="miter"/>
<rect x="1133.5" y="1226.9" width="9.4" height="9.4" fill="none" stroke="#0000E0" stroke-width="2.7"/>
<circle cx="1129.1" cy="1264.8" r="4.8" fill="none" stroke="#0000E0" stroke-width="2.7"/>
<polygon points="1129.1,1291 1134.5,1296.4 1129.1,1301.8 1123.7,1296.4" fill="none" stroke="#0000E0" stroke-width="2.7"/>
<polygon points="1178.5,1314.6 1184.8,1320.9 1178.5,1327.2 1172.2,1320.9" fill="#E60000"/>
<circle cx="1178.5" cy="1341.9" r="5.9" fill="#E60000"/>
<path d="M1175.4 1359.1L1183.2 1366.9M1175.4 1366.9L1183.2 1359.1" stroke="#E60000" stroke-width="3.3" stroke-linecap="square"/>
<path d="M1207.2 1217L1215 1224.8M1207.2 1224.8L1215 1217" stroke="#000" stroke-width="3.3" stroke-linecap="square"/>
<polygon points="1211.5,1226.7 1217.8,1233 1211.5,1239.3 1205.2,1233" fill="#000"/>
<circle cx="1211.5" cy="1318.8" r="5.9" fill="#000"/>
<polygon points="1244.4,1188.5 1249.7,1198 1239.1,1198" fill="none" stroke="#0000E0" stroke-width="2.7" stroke-linejoin="miter"/>
<circle cx="1235.9" cy="1246.6" r="4.8" fill="none" stroke="#0000E0" stroke-width="2.7"/>
<rect x="1247.5" y="1239.8" width="9.4" height="9.4" fill="none" stroke="#0000E0" stroke-width="2.7"/>
<polygon points="1244.4,1260.8 1249.8,1266.2 1244.4,1271.6 1239,1266.2" fill="none" stroke="#0000E0" stroke-width="2.7"/>
<circle cx="1294.1" cy="1311.8" r="5.9" fill="#E60000"/>
<polygon points="1294.1,1325.1 1300.4,1331.4 1294.1,1337.7 1287.8,1331.4" fill="#E60000"/>
<path d="M1291.3 1383.6L1299.1 1391.4M1291.3 1391.4L1299.1 1383.6" stroke="#E60000" stroke-width="3.3" stroke-linecap="square"/>
<polygon points="1327.2,1211.8 1333.5,1218.1 1327.2,1224.4 1320.9,1218.1" fill="#000"/>
<path d="M1322.9 1246.2L1330.7 1254M1322.9 1254L1330.7 1246.2" stroke="#000" stroke-width="3.3" stroke-linecap="square"/>
<circle cx="1326.8" cy="1264.1" r="5.9" fill="#000"/>
<rect x="1321.2" y="1271.1" width="11.2" height="11.2" fill="#000"/>
<polygon points="1360,1255.8 1365.3,1265.3 1354.7,1265.3" fill="none" stroke="#0000E0" stroke-width="2.7" stroke-linejoin="miter"/>
<polygon points="1352.7,1276.9 1358.1,1282.3 1352.7,1287.7 1347.3,1282.3" fill="none" stroke="#0000E0" stroke-width="2.7"/>
<circle cx="1368.1" cy="1284.4" r="4.8" fill="none" stroke="#0000E0" stroke-width="2.7"/>
<rect x="1355.3" y="1289.1" width="9.4" height="9.4" fill="none" stroke="#0000E0" stroke-width="2.7"/>
<polygon points="1414.7,1320.2 1421,1326.5 1414.7,1332.8 1408.4,1326.5" fill="#E60000"/>
<circle cx="1401.8" cy="1335.6" r="5.9" fill="#E60000"/>
<path d="M1408.4 1345L1416.2 1352.8M1408.4 1352.8L1416.2 1345" stroke="#E60000" stroke-width="3.3" stroke-linecap="square"/>
<path d="M1438.5 1242L1446.3 1249.8M1438.5 1249.8L1446.3 1242" stroke="#000" stroke-width="3.3" stroke-linecap="square"/>
<polygon points="1442.4,1256.1 1448.7,1262.4 1442.4,1268.7 1436.1,1262.4" fill="#000"/>
<circle cx="1442.7" cy="1320.5" r="5.9" fill="#000"/>
<polygon points="1475.4,1232.3 1480.7,1241.8 1470.1,1241.8" fill="none" stroke="#0000E0" stroke-width="2.7" stroke-linejoin="miter"/>
<polygon points="1468.8,1280 1474.2,1285.4 1468.8,1290.8 1463.4,1285.4" fill="none" stroke="#0000E0" stroke-width="2.7"/>
<circle cx="1483.1" cy="1282.1" r="4.8" fill="none" stroke="#0000E0" stroke-width="2.7"/>
<rect x="1470.7" y="1311.6" width="9.4" height="9.4" fill="none" stroke="#0000E0" stroke-width="2.7"/>
<polygon points="1525.1,1334.4 1531.4,1340.7 1525.1,1347 1518.8,1340.7" fill="#E60000"/>
<circle cx="1525.1" cy="1378.3" r="5.9" fill="#E60000"/>
<path d="M1520 1480.4L1527.8 1488.2M1520 1488.2L1527.8 1480.4" stroke="#E60000" stroke-width="3.3" stroke-linecap="square"/>
<rect x="1552.2" y="1294.9" width="11.2" height="11.2" fill="#000"/>
<polygon points="1557.8,1321.8 1564.1,1328.1 1557.8,1334.4 1551.5,1328.1" fill="#000"/>
<circle cx="1557.8" cy="1368.3" r="5.9" fill="#000"/>
<path d="M1554.4 1418.4L1562.2 1426.2M1554.4 1426.2L1562.2 1418.4" stroke="#000" stroke-width="3.3" stroke-linecap="square"/>
<polygon points="1583.4,1320.4 1588.7,1329.9 1578.1,1329.9" fill="none" stroke="#0000E0" stroke-width="2.7" stroke-linejoin="miter"/>
<rect x="1591.2" y="1318.9" width="9.4" height="9.4" fill="none" stroke="#0000E0" stroke-width="2.7"/>
<polygon points="1590.9,1343.3 1596.3,1348.7 1590.9,1354.1 1585.5,1348.7" fill="none" stroke="#0000E0" stroke-width="2.7"/>
<circle cx="1590.9" cy="1362" r="4.8" fill="none" stroke="#0000E0" stroke-width="2.7"/>
<polygon points="1640.6,1314.3 1646.9,1320.6 1640.6,1326.9 1634.3,1320.6" fill="#E60000"/>
<circle cx="1640.6" cy="1349.5" r="5.9" fill="#E60000"/>
<path d="M1636.7 1502.5L1644.5 1510.3M1636.7 1510.3L1644.5 1502.5" stroke="#E60000" stroke-width="3.3" stroke-linecap="square"/>
<rect x="1667.7" y="1207" width="11.2" height="11.2" fill="#000"/>
<circle cx="1665.7" cy="1329.4" r="5.9" fill="#000"/>
<path d="M1675.6 1320.5L1683.4 1328.3M1675.6 1328.3L1683.4 1320.5" stroke="#000" stroke-width="3.3" stroke-linecap="square"/>
<polygon points="1706.4,1256.2 1711.8,1261.6 1706.4,1267 1701,1261.6" fill="none" stroke="#0000E0" stroke-width="2.7"/>
<polygon points="1706.4,1297.8 1711.7,1307.3 1701.1,1307.3" fill="none" stroke="#0000E0" stroke-width="2.7" stroke-linejoin="miter"/>
<rect x="1694.9" y="1315.9" width="9.4" height="9.4" fill="none" stroke="#0000E0" stroke-width="2.7"/>
<circle cx="1713.4" cy="1317.6" r="4.8" fill="none" stroke="#0000E0" stroke-width="2.7"/>
<path d="M1064.6 1288.2V1323M1056.3 1288.2H1072.9M1056.3 1323H1072.9" stroke="#000" stroke-width="3.2" fill="none"/>
<path d="M1096.9 1219.5V1254M1088.6 1219.5H1105.2M1088.6 1254H1105.2" stroke="#000" stroke-width="3.2" fill="none"/>
<path d="M1132.6 1236.8V1264.4M1124.3 1236.8H1140.9M1124.3 1264.4H1140.9" stroke="#000" stroke-width="3.2" fill="none"/>
<path d="M1178.9 1329.3V1350.3M1170.6 1329.3H1187.2M1170.6 1350.3H1187.2" stroke="#000" stroke-width="3.2" fill="none"/>
<path d="M1211.1 1226.3V1268.3M1202.8 1226.3H1219.4M1202.8 1268.3H1219.4" stroke="#000" stroke-width="3.2" fill="none"/>
<path d="M1243.8 1214.3V1252.2M1235.5 1214.3H1252.1M1235.5 1252.2H1252.1" stroke="#000" stroke-width="3.2" fill="none"/>
<path d="M1295.5 1318.5V1356.4M1287.2 1318.5H1303.8M1287.2 1356.4H1303.8" stroke="#000" stroke-width="3.2" fill="none"/>
<path d="M1327.2 1232.6V1261.3M1318.9 1232.6H1335.5M1318.9 1261.3H1335.5" stroke="#000" stroke-width="3.2" fill="none"/>
<path d="M1360.4 1271.4V1290M1352.1 1271.4H1368.7M1352.1 1290H1368.7" stroke="#000" stroke-width="3.2" fill="none"/>
<path d="M1412.7 1330.7V1345.4M1404.4 1330.7H1421M1404.4 1345.4H1421" stroke="#000" stroke-width="3.2" fill="none"/>
<path d="M1443.1 1252.6V1290.5M1434.8 1252.6H1451.4M1434.8 1290.5H1451.4" stroke="#000" stroke-width="3.2" fill="none"/>
<path d="M1475.8 1257.4V1295.2M1467.5 1257.4H1484.1M1467.5 1295.2H1484.1" stroke="#000" stroke-width="3.2" fill="none"/>
<path d="M1525.1 1353.2V1409M1516.8 1353.2H1533.4M1516.8 1409H1533.4" stroke="#000" stroke-width="3.2" fill="none"/>
<path d="M1557.8 1321.4V1363.3M1549.5 1321.4H1566.1M1549.5 1363.3H1566.1" stroke="#000" stroke-width="3.2" fill="none"/>
<path d="M1590.9 1328.1V1350.2M1582.6 1328.1H1599.2M1582.6 1350.2H1599.2" stroke="#000" stroke-width="3.2" fill="none"/>
<path d="M1641.9 1331.1V1392.2M1633.6 1331.1H1650.2M1633.6 1392.2H1650.2" stroke="#000" stroke-width="3.2" fill="none"/>
<path d="M1672.8 1229V1326.9M1664.5 1229H1681.1M1664.5 1326.9H1681.1" stroke="#000" stroke-width="3.2" fill="none"/>
<path d="M1707.2 1279.2V1310.6M1698.9 1279.2H1715.5M1698.9 1310.6H1715.5" stroke="#000" stroke-width="3.2" fill="none"/>
</g>
</svg>
</body></html>
